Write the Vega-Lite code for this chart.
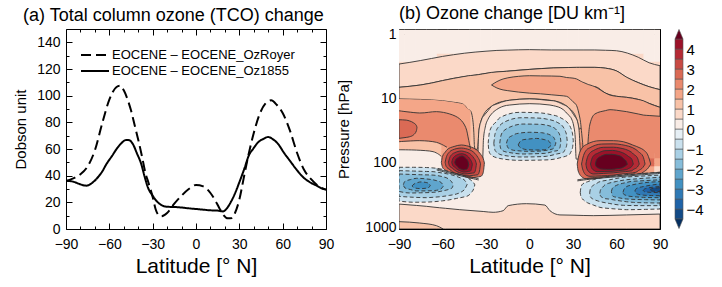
{
"$schema": "https://vega.github.io/schema/vega-lite/v6.json",
"padding": {"left": 13, "top": 4, "right": 5, "bottom": 5},
"background": "white",
"config": {
  "font": "Liberation Sans",
  "view": {"stroke": "#000", "strokeWidth": 1},
  "axis": {"grid": false, "domain": false, "tickColor": "#000", "tickWidth": 1, "labelColor": "#000", "titleColor": "#000", "labelFontSize": 14, "titleFontWeight": "normal", "labelFlush": false, "labelOverlap": false},
  "title": {"fontSize": 18, "fontWeight": "normal", "anchor": "start", "color": "#000", "frame": "group"},
  "legend": {"labelFont": "Liberation Sans"}
},
"datasets": {
"ct": [
{"id":"U2","lat":-90,"p":15.6},{"id":"U2","lat":-75.7,"p":16.9},{"id":"U2","lat":-64.2,"p":16.1},{"id":"U2","lat":-55,"p":17.5},{"id":"U2","lat":-48.1,"p":20.9},{"id":"U2","lat":-44,"p":28.3},{"id":"U2","lat":-42.1,"p":42.9},{"id":"U2","lat":-40.7,"p":61.3},
{"id":"U4","lat":-90,"p":47.2},{"id":"U4","lat":-75.7,"p":45.5},{"id":"U4","lat":-64.2,"p":48.3},{"id":"U4","lat":-56.9,"p":57.7},
{"id":"W1","lat":-90,"p":63},{"id":"W1","lat":-78,"p":63.8},{"id":"W1","lat":-66.5,"p":67.4},{"id":"W1","lat":-60.8,"p":79.6},
{"id":"TL1","lat":-64,"p":125},{"id":"TL1","lat":-55,"p":140},{"id":"TL1","lat":-45,"p":158},{"id":"TL1","lat":-35,"p":178},
{"id":"TL2","lat":-64,"p":130},{"id":"TL2","lat":-55,"p":146},{"id":"TL2","lat":-45,"p":165},{"id":"TL2","lat":-35,"p":186},
{"id":"TR1","lat":33,"p":185},{"id":"TR1","lat":45,"p":170},{"id":"TR1","lat":60,"p":160},{"id":"TR1","lat":75,"p":150},{"id":"TR1","lat":90,"p":141},
{"id":"TR2","lat":33,"p":192},{"id":"TR2","lat":45,"p":177},{"id":"TR2","lat":60,"p":166},{"id":"TR2","lat":75,"p":156},{"id":"TR2","lat":90,"p":147}
],
"bd": [
{"g":"A","id":"A","v":0.75,"lat":-90,"t":2.93,"b":6.74},{"g":"A","id":"A","v":0.75,"lat":-82.5,"t":2.76,"b":6.5},{"g":"A","id":"A","v":0.75,"lat":-75,"t":2.58,"b":6.2},{"g":"A","id":"A","v":0.75,"lat":-67.5,"t":2.4,"b":5.78},{"g":"A","id":"A","v":0.75,"lat":-60,"t":2.23,"b":5.3},{"g":"A","id":"A","v":0.75,"lat":-52.5,"t":2.1,"b":4.9},{"g":"A","id":"A","v":0.75,"lat":-45,"t":1.99,"b":4.6},{"g":"A","id":"A","v":0.75,"lat":-37.5,"t":1.91,"b":4.35},{"g":"A","id":"A","v":0.75,"lat":-30,"t":1.85,"b":4.1},{"g":"A","id":"A","v":0.75,"lat":-22.5,"t":1.8,"b":3.9},{"g":"A","id":"A","v":0.75,"lat":-15,"t":1.78,"b":3.78},{"g":"A","id":"A","v":0.75,"lat":-7.5,"t":1.76,"b":3.65},{"g":"A","id":"A","v":0.75,"lat":0,"t":1.75,"b":3.55},{"g":"A","id":"A","v":0.75,"lat":7.5,"t":1.76,"b":3.45},{"g":"A","id":"A","v":0.75,"lat":15,"t":1.77,"b":3.38},{"g":"A","id":"A","v":0.75,"lat":22.5,"t":1.77,"b":3.33},{"g":"A","id":"A","v":0.75,"lat":30,"t":1.77,"b":3.31},{"g":"A","id":"A","v":0.75,"lat":37.5,"t":1.77,"b":3.3},{"g":"A","id":"A","v":0.75,"lat":45,"t":1.77,"b":3.3},{"g":"A","id":"A","v":0.75,"lat":52.5,"t":1.79,"b":3.4},{"g":"A","id":"A","v":0.75,"lat":60,"t":1.82,"b":3.75},{"g":"A","id":"A","v":0.75,"lat":67.5,"t":1.98,"b":4.8},{"g":"A","id":"A","v":0.75,"lat":75,"t":2.3,"b":5.7},{"g":"A","id":"A","v":0.75,"lat":82.5,"t":2.8,"b":6.6},{"g":"A","id":"A","v":0.75,"lat":90,"t":3.11,"b":7.33},
{"g":"B","id":"B","v":1.25,"lat":-90,"t":6.74,"b":10.2},{"g":"B","id":"B","v":1.25,"lat":-82.5,"t":6.5,"b":10.3},{"g":"B","id":"B","v":1.25,"lat":-75,"t":6.2,"b":10.4},{"g":"B","id":"B","v":1.25,"lat":-67.5,"t":5.78,"b":10.6},{"g":"B","id":"B","v":1.25,"lat":-60,"t":5.3,"b":10.9},{"g":"B","id":"B","v":1.25,"lat":-52.5,"t":4.9,"b":11.5},{"g":"B","id":"B","v":1.25,"lat":-45.8,"t":4.6,"b":12.3},{"g":"B","id":"B","v":1.25,"lat":-42,"t":4.45,"b":15},{"g":"B","id":"B","v":1.25,"lat":-40.7,"t":4.42,"b":15.6},{"g":"B","id":"B","v":1.25,"lat":-38.9,"t":4.38,"b":23.6},{"g":"B","id":"B","v":1.25,"lat":-38.4,"t":4.37,"b":33.7},{"g":"B","id":"B","v":1.25,"lat":-38,"t":4.36,"b":54},{"g":"B","id":"B","v":1.25,"lat":-37.5,"t":4.35,"b":62},{"g":"B","id":"B","v":1.25,"lat":-36,"t":4.3,"b":62},{"g":"B","id":"B","v":1.25,"lat":-35.3,"t":4.28,"b":45},{"g":"B","id":"B","v":1.25,"lat":-35,"t":4.27,"b":33.7},{"g":"B","id":"B","v":1.25,"lat":-34,"t":4.24,"b":25},{"g":"B","id":"B","v":1.25,"lat":-32.5,"t":4.18,"b":19.8},{"g":"B","id":"B","v":1.25,"lat":-26.2,"t":3.95,"b":13.3},{"g":"B","id":"B","v":1.25,"lat":-15.9,"t":3.8,"b":10.9},{"g":"B","id":"B","v":1.25,"lat":0.2,"t":3.55,"b":10.2},{"g":"B","id":"B","v":1.25,"lat":16.4,"t":3.37,"b":10.9},{"g":"B","id":"B","v":1.25,"lat":26.7,"t":3.32,"b":13.8},{"g":"B","id":"B","v":1.25,"lat":32.5,"t":3.3,"b":20.9},{"g":"B","id":"B","v":1.25,"lat":34.5,"t":3.3,"b":30},{"g":"B","id":"B","v":1.25,"lat":45.1,"t":3.3,"b":6.6},{"g":"B","id":"B","v":1.25,"lat":52.5,"t":3.4,"b":8.3},{"g":"B","id":"B","v":1.25,"lat":60,"t":3.75,"b":9.3},{"g":"B","id":"B","v":1.25,"lat":67,"t":4.7,"b":9.65},{"g":"B","id":"B","v":1.25,"lat":75,"t":5.7,"b":10.4},{"g":"B","id":"B","v":1.25,"lat":82.5,"t":6.6,"b":12},{"g":"B","id":"B","v":1.25,"lat":90,"t":7.33,"b":13.8},
{"g":"EF","id":"E","v":1.75,"lat":-90,"t":10.2,"b":15.6},{"g":"EF","id":"E","v":1.75,"lat":-82.5,"t":10.3,"b":16.2},{"g":"EF","id":"E","v":1.75,"lat":-75.7,"t":10.4,"b":16.9},{"g":"EF","id":"E","v":1.75,"lat":-67.5,"t":10.6,"b":16.4},{"g":"EF","id":"E","v":1.75,"lat":-64.2,"t":10.7,"b":16.1},{"g":"EF","id":"E","v":1.75,"lat":-60,"t":10.9,"b":16.6},{"g":"EF","id":"E","v":1.75,"lat":-55,"t":11.3,"b":17.5},{"g":"EF","id":"E","v":1.75,"lat":-48.1,"t":12,"b":20.9},{"g":"EF","id":"E","v":1.75,"lat":-45.8,"t":12.3,"b":24},{"g":"EF","id":"E","v":1.75,"lat":-44,"t":13.5,"b":28.3},{"g":"EF","id":"E","v":1.75,"lat":-42.1,"t":14.8,"b":42.9},{"g":"EF","id":"E","v":1.75,"lat":-40.7,"t":15.6,"b":61.3},
{"g":"EF","id":"F","v":2.25,"lat":-90,"t":15.6,"b":47.2},{"g":"EF","id":"F","v":2.25,"lat":-82.5,"t":16.2,"b":46.3},{"g":"EF","id":"F","v":2.25,"lat":-75.7,"t":16.9,"b":45.5},{"g":"EF","id":"F","v":2.25,"lat":-67.5,"t":16.4,"b":47},{"g":"EF","id":"F","v":2.25,"lat":-64.2,"t":16.1,"b":48.3},{"g":"EF","id":"F","v":2.25,"lat":-60,"t":16.6,"b":52},{"g":"EF","id":"F","v":2.25,"lat":-56.9,"t":17.3,"b":57.7},{"g":"EF","id":"F","v":2.25,"lat":-55,"t":17.5,"b":58},{"g":"EF","id":"F","v":2.25,"lat":-48.1,"t":20.9,"b":53.5},{"g":"EF","id":"F","v":2.25,"lat":-44,"t":28.3,"b":56},{"g":"EF","id":"F","v":2.25,"lat":-42.1,"t":42.9,"b":58},{"g":"EF","id":"F","v":2.25,"lat":-40.7,"t":61.3,"b":61.3},
{"g":"EF","id":"G","v":1.25,"lat":-90,"t":47.2,"b":63},{"g":"EF","id":"G","v":1.25,"lat":-82.5,"t":46.5,"b":63.3},{"g":"EF","id":"G","v":1.25,"lat":-75,"t":45.6,"b":64},{"g":"EF","id":"G","v":1.25,"lat":-67.5,"t":47.5,"b":67},{"g":"EF","id":"G","v":1.25,"lat":-62,"t":52,"b":75},{"g":"EF","id":"G","v":1.25,"lat":-60.8,"t":55,"b":80},
{"g":"EF","id":"H","v":2.25,"lat":40.5,"t":42.9,"b":50},{"g":"EF","id":"H","v":2.25,"lat":41.7,"t":25.1,"b":52},{"g":"EF","id":"H","v":2.25,"lat":45.1,"t":17.5,"b":48},{"g":"EF","id":"H","v":2.25,"lat":55.5,"t":15,"b":45.5},{"g":"EF","id":"H","v":2.25,"lat":67,"t":16.1,"b":48},{"g":"EF","id":"H","v":2.25,"lat":78.5,"t":18.2,"b":63},{"g":"EF","id":"H","v":2.25,"lat":90,"t":19,"b":75},
{"g":"T","id":"U3","v":2.75,"lat":-90,"t":21.5,"b":41.9},{"g":"T","id":"U3","v":2.75,"lat":-85,"t":21.8,"b":40.5},{"g":"T","id":"U3","v":2.75,"lat":-82.6,"t":22.5,"b":39.5},{"g":"T","id":"U3","v":2.75,"lat":-80,"t":24,"b":37},{"g":"T","id":"U3","v":2.75,"lat":-78,"t":26.5,"b":32},{"g":"T","id":"U3","v":2.75,"lat":-77.6,"t":28.3,"b":28.3},
{"g":"T","id":"TG","v":1.75,"lat":-26.2,"t":6.2,"b":6.2},{"g":"T","id":"TG","v":1.75,"lat":-22.5,"t":5.5,"b":6.9},{"g":"T","id":"TG","v":1.75,"lat":-18.2,"t":5,"b":7.4},{"g":"T","id":"TG","v":1.75,"lat":-15,"t":4.8,"b":7.6},{"g":"T","id":"TG","v":1.75,"lat":-7.5,"t":4.55,"b":8},{"g":"T","id":"TG","v":1.75,"lat":0,"t":4.45,"b":8.3},{"g":"T","id":"TG","v":1.75,"lat":7.5,"t":4.48,"b":8.5},{"g":"T","id":"TG","v":1.75,"lat":15,"t":4.5,"b":8.8},{"g":"T","id":"TG","v":1.75,"lat":21,"t":4.54,"b":9.05},{"g":"T","id":"TG","v":1.75,"lat":25.6,"t":4.75,"b":9.31},{"g":"T","id":"TG","v":1.75,"lat":30,"t":4.85,"b":11.3},{"g":"T","id":"TG","v":1.75,"lat":32.5,"t":5,"b":13},{"g":"T","id":"TG","v":1.75,"lat":34,"t":5.2,"b":17},{"g":"T","id":"TG","v":1.75,"lat":35.2,"t":5.4,"b":23.6},{"g":"T","id":"TG","v":1.75,"lat":36,"t":5.5,"b":35},{"g":"T","id":"TG","v":1.75,"lat":36.6,"t":5.6,"b":48.3},{"g":"T","id":"TG","v":1.75,"lat":37.5,"t":5.7,"b":77.9},{"g":"T","id":"TG","v":1.75,"lat":39.8,"t":6,"b":77.9},{"g":"T","id":"TG","v":1.75,"lat":40.5,"t":6.1,"b":42.9},{"g":"T","id":"TG","v":1.75,"lat":41.7,"t":6.2,"b":25.1},{"g":"T","id":"TG","v":1.75,"lat":45.1,"t":6.6,"b":17.5},{"g":"T","id":"TG","v":1.75,"lat":52.5,"t":8.3,"b":15.5},{"g":"T","id":"TG","v":1.75,"lat":55.5,"t":8.9,"b":15},{"g":"T","id":"TG","v":1.75,"lat":60,"t":9.3,"b":15.3},{"g":"T","id":"TG","v":1.75,"lat":67,"t":9.65,"b":16.1},{"g":"T","id":"TG","v":1.75,"lat":75,"t":10.4,"b":17.5},{"g":"T","id":"TG","v":1.75,"lat":78.5,"t":10.9,"b":18.2},{"g":"T","id":"TG","v":1.75,"lat":82.5,"t":12,"b":18.5},{"g":"T","id":"TG","v":1.75,"lat":90,"t":13.8,"b":19},
{"g":"W","id":"WB","v":0.25,"lat":-90,"t":63,"b":440},{"g":"W","id":"WB","v":0.25,"lat":-78,"t":63.8,"b":462},{"g":"W","id":"WB","v":0.25,"lat":-71.1,"t":65.5,"b":477},{"g":"W","id":"WB","v":0.25,"lat":-66.5,"t":67.4,"b":490},{"g":"W","id":"WB","v":0.25,"lat":-62,"t":75,"b":502},{"g":"W","id":"WB","v":0.25,"lat":-60.8,"t":85,"b":505},{"g":"W","id":"WB","v":0.25,"lat":-58,"t":125,"b":512},{"g":"W","id":"WB","v":0.25,"lat":-48.1,"t":125,"b":538},{"g":"W","id":"WB","v":0.25,"lat":-31.5,"t":125,"b":575},{"g":"W","id":"WB","v":0.25,"lat":-30,"t":95,"b":578},{"g":"W","id":"WB","v":0.25,"lat":-25.1,"t":95,"b":591},{"g":"W","id":"WB","v":0.25,"lat":-18.2,"t":95,"b":558},{"g":"W","id":"WB","v":0.25,"lat":-14.7,"t":95,"b":466},{"g":"W","id":"WB","v":0.25,"lat":-2.1,"t":95,"b":434},{"g":"W","id":"WB","v":0.25,"lat":10.6,"t":95,"b":456},{"g":"W","id":"WB","v":0.25,"lat":14.1,"t":95,"b":558},{"g":"W","id":"WB","v":0.25,"lat":21,"t":95,"b":649},{"g":"W","id":"WB","v":0.25,"lat":30,"t":95,"b":655},{"g":"W","id":"WB","v":0.25,"lat":33,"t":120,"b":658},{"g":"W","id":"WB","v":0.25,"lat":36,"t":150,"b":660},{"g":"W","id":"WB","v":0.25,"lat":44,"t":150,"b":666},{"g":"W","id":"WB","v":0.25,"lat":67,"t":150,"b":649},{"g":"W","id":"WB","v":0.25,"lat":90,"t":150,"b":629},
{"g":"W","id":"AW","v":0.25,"lat":-32.2,"t":85,"b":95},{"g":"W","id":"AW","v":0.25,"lat":-31.8,"t":45,"b":95},{"g":"W","id":"AW","v":0.25,"lat":-31.5,"t":33.7,"b":95},{"g":"W","id":"AW","v":0.25,"lat":-28.5,"t":20.9,"b":95},{"g":"W","id":"AW","v":0.25,"lat":-22.8,"t":15,"b":95},{"g":"W","id":"AW","v":0.25,"lat":-13.6,"t":12.7,"b":95},{"g":"W","id":"AW","v":0.25,"lat":0.2,"t":12.1,"b":95},{"g":"W","id":"AW","v":0.25,"lat":14.1,"t":12.7,"b":95},{"g":"W","id":"AW","v":0.25,"lat":23.3,"t":15,"b":95},{"g":"W","id":"AW","v":0.25,"lat":29,"t":20.9,"b":95},{"g":"W","id":"AW","v":0.25,"lat":31.3,"t":33.7,"b":95},{"g":"W","id":"AW","v":0.25,"lat":32,"t":54.4,"b":95},{"g":"W","id":"AW","v":0.25,"lat":32.4,"t":85,"b":95},
{"g":"S","id":"AR","v":0.75,"lat":-35.5,"t":75,"b":88},{"g":"S","id":"AR","v":0.75,"lat":-35.2,"t":40,"b":88},{"g":"S","id":"AR","v":0.75,"lat":-34.5,"t":28,"b":88},{"g":"S","id":"AR","v":0.75,"lat":-33.5,"t":23,"b":88},{"g":"S","id":"AR","v":0.75,"lat":-32.3,"t":19.5,"b":88},{"g":"S","id":"AR","v":0.75,"lat":-31.8,"t":19,"b":45},{"g":"S","id":"AR","v":0.75,"lat":-30.5,"t":17.5,"b":28},{"g":"S","id":"AR","v":0.75,"lat":-28.5,"t":15.5,"b":20.9},{"g":"S","id":"AR","v":0.75,"lat":-26.2,"t":13.3,"b":17.5},{"g":"S","id":"AR","v":0.75,"lat":-22.8,"t":12.3,"b":15},{"g":"S","id":"AR","v":0.75,"lat":-15.9,"t":10.9,"b":12.9},{"g":"S","id":"AR","v":0.75,"lat":-13.6,"t":10.7,"b":12.7},{"g":"S","id":"AR","v":0.75,"lat":0.2,"t":10.2,"b":12.1},{"g":"S","id":"AR","v":0.75,"lat":14.1,"t":10.8,"b":12.7},{"g":"S","id":"AR","v":0.75,"lat":16.4,"t":10.9,"b":13},{"g":"S","id":"AR","v":0.75,"lat":23.3,"t":12.5,"b":15},{"g":"S","id":"AR","v":0.75,"lat":26.7,"t":13.8,"b":18},{"g":"S","id":"AR","v":0.75,"lat":29,"t":16,"b":20.9},{"g":"S","id":"AR","v":0.75,"lat":30.5,"t":18,"b":27},{"g":"S","id":"AR","v":0.75,"lat":31.5,"t":19.5,"b":40},{"g":"S","id":"AR","v":0.75,"lat":32.2,"t":20.5,"b":88},{"g":"S","id":"AR","v":0.75,"lat":33.5,"t":25,"b":88},{"g":"S","id":"AR","v":0.75,"lat":34.3,"t":33.7,"b":88},{"g":"S","id":"AR","v":0.75,"lat":34.8,"t":54.4,"b":88},{"g":"S","id":"AR","v":0.75,"lat":35.2,"t":88,"b":88},
{"g":"S","id":"BT","v":0.75,"lat":-90,"t":440,"b":1074},{"g":"S","id":"BT","v":0.75,"lat":-78,"t":462,"b":1074},{"g":"S","id":"BT","v":0.75,"lat":-71.1,"t":477,"b":1074},{"g":"S","id":"BT","v":0.75,"lat":-66.5,"t":490,"b":1074},{"g":"S","id":"BT","v":0.75,"lat":-62,"t":502,"b":1074},{"g":"S","id":"BT","v":0.75,"lat":-58,"t":512,"b":1074},{"g":"S","id":"BT","v":0.75,"lat":-48.1,"t":538,"b":1074},{"g":"S","id":"BT","v":0.75,"lat":-31.5,"t":575,"b":1074},{"g":"S","id":"BT","v":0.75,"lat":-25.1,"t":591,"b":1074},{"g":"S","id":"BT","v":0.75,"lat":-18.2,"t":558,"b":1074},{"g":"S","id":"BT","v":0.75,"lat":-14.7,"t":466,"b":1074},{"g":"S","id":"BT","v":0.75,"lat":-2.1,"t":434,"b":1074},{"g":"S","id":"BT","v":0.75,"lat":10.6,"t":456,"b":1074},{"g":"S","id":"BT","v":0.75,"lat":14.1,"t":558,"b":1074},{"g":"S","id":"BT","v":0.75,"lat":21,"t":649,"b":1074},{"g":"S","id":"BT","v":0.75,"lat":30,"t":655,"b":1074},{"g":"S","id":"BT","v":0.75,"lat":44,"t":666,"b":1074},{"g":"S","id":"BT","v":0.75,"lat":67,"t":649,"b":1074},{"g":"S","id":"BT","v":0.75,"lat":90,"t":629,"b":1074},
{"g":"S","id":"BT2","v":1.25,"lat":-90,"t":826,"b":1074},{"g":"S","id":"BT2","v":1.25,"lat":-75.7,"t":867,"b":1074},{"g":"S","id":"BT2","v":1.25,"lat":-64.2,"t":953,"b":1074},{"g":"S","id":"BT2","v":1.25,"lat":-59.6,"t":1074,"b":1074},
{"g":"P1","id":"R1","v":2.75,"lat":-60.8,"t":98.8,"b":98.8},{"g":"P1","id":"R1","v":2.75,"lat":-60,"t":80,"b":118},{"g":"P1","id":"R1","v":2.75,"lat":-58,"t":68,"b":132},{"g":"P1","id":"R1","v":2.75,"lat":-56.9,"t":63,"b":138},{"g":"P1","id":"R1","v":2.75,"lat":-52,"t":56,"b":155},{"g":"P1","id":"R1","v":2.75,"lat":-47,"t":53.1,"b":166},{"g":"P1","id":"R1","v":2.75,"lat":-43.5,"t":54.5,"b":175},{"g":"P1","id":"R1","v":2.75,"lat":-40,"t":57.5,"b":172},{"g":"P1","id":"R1","v":2.75,"lat":-36.6,"t":63,"b":168},{"g":"P1","id":"R1","v":2.75,"lat":-33.5,"t":75,"b":163},{"g":"P1","id":"R1","v":2.75,"lat":-32,"t":85,"b":145},{"g":"P1","id":"R1","v":2.75,"lat":-31.1,"t":101,"b":101},
{"g":"P1","id":"Q1","v":2.75,"lat":32.9,"t":105,"b":105},{"g":"P1","id":"Q1","v":2.75,"lat":33.6,"t":85,"b":135},{"g":"P1","id":"Q1","v":2.75,"lat":36.6,"t":57.7,"b":170},{"g":"P1","id":"Q1","v":2.75,"lat":39.4,"t":52,"b":179},{"g":"P1","id":"Q1","v":2.75,"lat":48.6,"t":45.5,"b":175},{"g":"P1","id":"Q1","v":2.75,"lat":57.8,"t":45.5,"b":169},{"g":"P1","id":"Q1","v":2.75,"lat":64.7,"t":47.2,"b":160},{"g":"P1","id":"Q1","v":2.75,"lat":71,"t":53,"b":155},{"g":"P1","id":"Q1","v":2.75,"lat":76.2,"t":59,"b":150},{"g":"P1","id":"Q1","v":2.75,"lat":78.5,"t":63,"b":140},{"g":"P1","id":"Q1","v":2.75,"lat":82,"t":80,"b":120},{"g":"P1","id":"Q1","v":2.75,"lat":83.6,"t":105,"b":105},
{"g":"P2","id":"R2","v":3.25,"lat":-58.2,"t":98.8,"b":98.8},{"g":"P2","id":"R2","v":3.25,"lat":-57.5,"t":84,"b":114},{"g":"P2","id":"R2","v":3.25,"lat":-55,"t":67.4,"b":128},{"g":"P2","id":"R2","v":3.25,"lat":-53.2,"t":63.5,"b":138},{"g":"P2","id":"R2","v":3.25,"lat":-47,"t":59.2,"b":155},{"g":"P2","id":"R2","v":3.25,"lat":-44,"t":60.5,"b":161},{"g":"P2","id":"R2","v":3.25,"lat":-38.4,"t":69.1,"b":157},{"g":"P2","id":"R2","v":3.25,"lat":-35.7,"t":82,"b":154},{"g":"P2","id":"R2","v":3.25,"lat":-34.5,"t":92,"b":135},{"g":"P2","id":"R2","v":3.25,"lat":-33.8,"t":104,"b":104},
{"g":"P2","id":"Q2","v":3.25,"lat":35.9,"t":105,"b":105},{"g":"P2","id":"Q2","v":3.25,"lat":36.6,"t":88,"b":125},{"g":"P2","id":"Q2","v":3.25,"lat":39.4,"t":63,"b":158},{"g":"P2","id":"Q2","v":3.25,"lat":41.7,"t":58.5,"b":163},{"g":"P2","id":"Q2","v":3.25,"lat":49.7,"t":51.3,"b":160},{"g":"P2","id":"Q2","v":3.25,"lat":57.8,"t":51,"b":156},{"g":"P2","id":"Q2","v":3.25,"lat":63.5,"t":52.5,"b":150},{"g":"P2","id":"Q2","v":3.25,"lat":73.4,"t":62.5,"b":141},{"g":"P2","id":"Q2","v":3.25,"lat":75.1,"t":67.4,"b":133},{"g":"P2","id":"Q2","v":3.25,"lat":78.3,"t":80,"b":118},{"g":"P2","id":"Q2","v":3.25,"lat":79.7,"t":105,"b":105},
{"g":"P3","id":"R3","v":3.75,"lat":-55.9,"t":98.8,"b":98.8},{"g":"P3","id":"R3","v":3.75,"lat":-55.2,"t":86,"b":112},{"g":"P3","id":"R3","v":3.75,"lat":-53.2,"t":73.3,"b":122},{"g":"P3","id":"R3","v":3.75,"lat":-51.6,"t":70,"b":131},{"g":"P3","id":"R3","v":3.75,"lat":-47,"t":65.9,"b":146},{"g":"P3","id":"R3","v":3.75,"lat":-44.6,"t":67.5,"b":150},{"g":"P3","id":"R3","v":3.75,"lat":-40.3,"t":75.1,"b":146},{"g":"P3","id":"R3","v":3.75,"lat":-38.2,"t":86,"b":144},{"g":"P3","id":"R3","v":3.75,"lat":-37.2,"t":94,"b":128},{"g":"P3","id":"R3","v":3.75,"lat":-36.6,"t":105,"b":105},
{"g":"P3","id":"Q3","v":3.75,"lat":38.9,"t":105,"b":105},{"g":"P3","id":"Q3","v":3.75,"lat":39.6,"t":88,"b":125},{"g":"P3","id":"Q3","v":3.75,"lat":42.1,"t":69.1,"b":145},{"g":"P3","id":"Q3","v":3.75,"lat":44,"t":65,"b":150},{"g":"P3","id":"Q3","v":3.75,"lat":50.9,"t":57.7,"b":147},{"g":"P3","id":"Q3","v":3.75,"lat":57.8,"t":57.5,"b":144},{"g":"P3","id":"Q3","v":3.75,"lat":62.4,"t":59.2,"b":140},{"g":"P3","id":"Q3","v":3.75,"lat":70.4,"t":69,"b":134},{"g":"P3","id":"Q3","v":3.75,"lat":71.6,"t":73.3,"b":128},{"g":"P3","id":"Q3","v":3.75,"lat":74.4,"t":84,"b":117},{"g":"P3","id":"Q3","v":3.75,"lat":75.7,"t":105,"b":105},
{"g":"P4","id":"R4","v":4.25,"lat":-53.6,"t":98.8,"b":98.8},{"g":"P4","id":"R4","v":4.25,"lat":-53,"t":88,"b":110},{"g":"P4","id":"R4","v":4.25,"lat":-51.3,"t":78.8,"b":119},{"g":"P4","id":"R4","v":4.25,"lat":-50.4,"t":76.5,"b":124},{"g":"P4","id":"R4","v":4.25,"lat":-46.7,"t":72.5,"b":137},{"g":"P4","id":"R4","v":4.25,"lat":-45.3,"t":73.5,"b":140},{"g":"P4","id":"R4","v":4.25,"lat":-42.1,"t":81.6,"b":137},{"g":"P4","id":"R4","v":4.25,"lat":-40.7,"t":90,"b":135},{"g":"P4","id":"R4","v":4.25,"lat":-40,"t":96,"b":124},{"g":"P4","id":"R4","v":4.25,"lat":-39.4,"t":106,"b":106},
{"g":"P4","id":"Q4","v":4.25,"lat":42.1,"t":105,"b":105},{"g":"P4","id":"Q4","v":4.25,"lat":42.8,"t":90,"b":120},{"g":"P4","id":"Q4","v":4.25,"lat":44.7,"t":76,"b":133},{"g":"P4","id":"Q4","v":4.25,"lat":46.7,"t":72,"b":138},{"g":"P4","id":"Q4","v":4.25,"lat":52,"t":65.1,"b":137},{"g":"P4","id":"Q4","v":4.25,"lat":57.3,"t":64.5,"b":136},{"g":"P4","id":"Q4","v":4.25,"lat":61.2,"t":66.6,"b":133},{"g":"P4","id":"Q4","v":4.25,"lat":67,"t":76,"b":128},{"g":"P4","id":"Q4","v":4.25,"lat":68.1,"t":79.6,"b":124},{"g":"P4","id":"Q4","v":4.25,"lat":70.5,"t":88,"b":115},{"g":"P4","id":"Q4","v":4.25,"lat":71.6,"t":105,"b":105},
{"g":"P5","id":"R5","v":4.75,"lat":-51.6,"t":98.8,"b":98.8},{"g":"P5","id":"R5","v":4.75,"lat":-51,"t":91,"b":107},{"g":"P5","id":"R5","v":4.75,"lat":-49.7,"t":84.6,"b":114},{"g":"P5","id":"R5","v":4.75,"lat":-49.3,"t":83.5,"b":118},{"g":"P5","id":"R5","v":4.75,"lat":-46.5,"t":78.8,"b":128},{"g":"P5","id":"R5","v":4.75,"lat":-45.8,"t":79.5,"b":130},{"g":"P5","id":"R5","v":4.75,"lat":-43.5,"t":87.7,"b":127},{"g":"P5","id":"R5","v":4.75,"lat":-43,"t":90,"b":125},{"g":"P5","id":"R5","v":4.75,"lat":-42.4,"t":96,"b":118},{"g":"P5","id":"R5","v":4.75,"lat":-41.9,"t":107,"b":107},
{"g":"P5","id":"Q5","v":4.75,"lat":45.4,"t":105,"b":105},{"g":"P5","id":"Q5","v":4.75,"lat":46,"t":93,"b":115},{"g":"P5","id":"Q5","v":4.75,"lat":47.5,"t":83.6,"b":121},{"g":"P5","id":"Q5","v":4.75,"lat":49,"t":80,"b":125},{"g":"P5","id":"Q5","v":4.75,"lat":53.2,"t":74.2,"b":127},{"g":"P5","id":"Q5","v":4.75,"lat":56.6,"t":74,"b":127},{"g":"P5","id":"Q5","v":4.75,"lat":60.1,"t":76,"b":124},{"g":"P5","id":"Q5","v":4.75,"lat":63.5,"t":81,"b":121},{"g":"P5","id":"Q5","v":4.75,"lat":65.2,"t":87.7,"b":116},{"g":"P5","id":"Q5","v":4.75,"lat":66.8,"t":96,"b":110},{"g":"P5","id":"Q5","v":4.75,"lat":67.5,"t":106,"b":106},
{"g":"M1","id":"N1","v":-0.75,"lat":-28.5,"t":50,"b":50},{"g":"M1","id":"N1","v":-0.75,"lat":-28,"t":38,"b":65},{"g":"M1","id":"N1","v":-0.75,"lat":-26.9,"t":30,"b":74},{"g":"M1","id":"N1","v":-0.75,"lat":-22.8,"t":23,"b":83.6},{"g":"M1","id":"N1","v":-0.75,"lat":-20.5,"t":20,"b":86},{"g":"M1","id":"N1","v":-0.75,"lat":-6.7,"t":16.5,"b":92},{"g":"M1","id":"N1","v":-0.75,"lat":8.3,"t":16.9,"b":91},{"g":"M1","id":"N1","v":-0.75,"lat":14.1,"t":17.8,"b":90},{"g":"M1","id":"N1","v":-0.75,"lat":21,"t":19.8,"b":84},{"g":"M1","id":"N1","v":-0.75,"lat":27.9,"t":27,"b":73.3},{"g":"M1","id":"N1","v":-0.75,"lat":28.3,"t":28.3,"b":70},{"g":"M1","id":"N1","v":-0.75,"lat":29.7,"t":36,"b":58},{"g":"M1","id":"N1","v":-0.75,"lat":30.2,"t":45.5,"b":45.5},
{"g":"M1","id":"LB1","v":-0.75,"lat":-90,"t":118,"b":395},{"g":"M1","id":"LB1","v":-0.75,"lat":-80,"t":118,"b":412},{"g":"M1","id":"LB1","v":-0.75,"lat":-71.1,"t":119,"b":410},{"g":"M1","id":"LB1","v":-0.75,"lat":-60,"t":127,"b":392},{"g":"M1","id":"LB1","v":-0.75,"lat":-57.3,"t":133,"b":385},{"g":"M1","id":"LB1","v":-0.75,"lat":-50.4,"t":150,"b":360},{"g":"M1","id":"LB1","v":-0.75,"lat":-45,"t":162,"b":340},{"g":"M1","id":"LB1","v":-0.75,"lat":-42.3,"t":175,"b":326},{"g":"M1","id":"LB1","v":-0.75,"lat":-40,"t":190,"b":290},{"g":"M1","id":"LB1","v":-0.75,"lat":-38.5,"t":205,"b":255},{"g":"M1","id":"LB1","v":-0.75,"lat":-37.7,"t":221,"b":221},
{"g":"M1","id":"RB1","v":-0.75,"lat":35,"t":290,"b":290},{"g":"M1","id":"RB1","v":-0.75,"lat":35.5,"t":240,"b":340},{"g":"M1","id":"RB1","v":-0.75,"lat":36.6,"t":215,"b":367},{"g":"M1","id":"RB1","v":-0.75,"lat":40,"t":198,"b":420},{"g":"M1","id":"RB1","v":-0.75,"lat":44,"t":184,"b":455},{"g":"M1","id":"RB1","v":-0.75,"lat":48.6,"t":174,"b":495},{"g":"M1","id":"RB1","v":-0.75,"lat":55,"t":165,"b":515},{"g":"M1","id":"RB1","v":-0.75,"lat":62.4,"t":156,"b":530},{"g":"M1","id":"RB1","v":-0.75,"lat":67,"t":153,"b":538},{"g":"M1","id":"RB1","v":-0.75,"lat":80,"t":146,"b":532},{"g":"M1","id":"RB1","v":-0.75,"lat":90,"t":141,"b":525},
{"g":"M2","id":"N2","v":-1.25,"lat":-24.6,"t":50,"b":50},{"g":"M2","id":"N2","v":-1.25,"lat":-24,"t":38,"b":62},{"g":"M2","id":"N2","v":-1.25,"lat":-23.2,"t":33,"b":67},{"g":"M2","id":"N2","v":-1.25,"lat":-20.5,"t":26.5,"b":74.2},{"g":"M2","id":"N2","v":-1.25,"lat":-17.7,"t":23.6,"b":77},{"g":"M2","id":"N2","v":-1.25,"lat":-5.5,"t":20,"b":81.6},{"g":"M2","id":"N2","v":-1.25,"lat":8.3,"t":20.4,"b":80.5},{"g":"M2","id":"N2","v":-1.25,"lat":11.7,"t":21,"b":79.6},{"g":"M2","id":"N2","v":-1.25,"lat":19.1,"t":23.6,"b":73},{"g":"M2","id":"N2","v":-1.25,"lat":23.3,"t":28,"b":69.1},{"g":"M2","id":"N2","v":-1.25,"lat":24.6,"t":31.8,"b":62},{"g":"M2","id":"N2","v":-1.25,"lat":25.6,"t":38,"b":54},{"g":"M2","id":"N2","v":-1.25,"lat":26,"t":46,"b":46},
{"g":"M2","id":"LB2","v":-1.25,"lat":-90,"t":133,"b":334},{"g":"M2","id":"LB2","v":-1.25,"lat":-80,"t":135,"b":345},{"g":"M2","id":"LB2","v":-1.25,"lat":-71.1,"t":137,"b":350},{"g":"M2","id":"LB2","v":-1.25,"lat":-66.5,"t":138,"b":345},{"g":"M2","id":"LB2","v":-1.25,"lat":-60,"t":145,"b":335},{"g":"M2","id":"LB2","v":-1.25,"lat":-55,"t":152,"b":322},{"g":"M2","id":"LB2","v":-1.25,"lat":-50.4,"t":163,"b":307},{"g":"M2","id":"LB2","v":-1.25,"lat":-47,"t":175,"b":285},{"g":"M2","id":"LB2","v":-1.25,"lat":-44.5,"t":190,"b":255},{"g":"M2","id":"LB2","v":-1.25,"lat":-43,"t":217,"b":217},
{"g":"M2","id":"RB2","v":-1.25,"lat":41.5,"t":300,"b":300},{"g":"M2","id":"RB2","v":-1.25,"lat":42,"t":255,"b":340},{"g":"M2","id":"RB2","v":-1.25,"lat":44,"t":225,"b":370},{"g":"M2","id":"RB2","v":-1.25,"lat":46.7,"t":208,"b":390},{"g":"M2","id":"RB2","v":-1.25,"lat":47.4,"t":202,"b":395},{"g":"M2","id":"RB2","v":-1.25,"lat":55,"t":185,"b":430},{"g":"M2","id":"RB2","v":-1.25,"lat":62.4,"t":172,"b":456},{"g":"M2","id":"RB2","v":-1.25,"lat":64.7,"t":169,"b":460},{"g":"M2","id":"RB2","v":-1.25,"lat":75,"t":163,"b":465},{"g":"M2","id":"RB2","v":-1.25,"lat":90,"t":156,"b":466},
{"g":"M3","id":"N3","v":-1.75,"lat":-20.5,"t":50,"b":50},{"g":"M3","id":"N3","v":-1.75,"lat":-20,"t":41,"b":59},{"g":"M3","id":"N3","v":-1.75,"lat":-19.3,"t":35.8,"b":63},{"g":"M3","id":"N3","v":-1.75,"lat":-17,"t":31,"b":67.4},{"g":"M3","id":"N3","v":-1.75,"lat":-14,"t":28.3,"b":69.5},{"g":"M3","id":"N3","v":-1.75,"lat":-4.4,"t":25.1,"b":73.3},{"g":"M3","id":"N3","v":-1.75,"lat":8.3,"t":25.4,"b":72},{"g":"M3","id":"N3","v":-1.75,"lat":10.6,"t":25.8,"b":71.7},{"g":"M3","id":"N3","v":-1.75,"lat":17.5,"t":29.3,"b":66},{"g":"M3","id":"N3","v":-1.75,"lat":19.1,"t":32,"b":65.1},{"g":"M3","id":"N3","v":-1.75,"lat":21,"t":38,"b":58},{"g":"M3","id":"N3","v":-1.75,"lat":21.6,"t":46,"b":46},
{"g":"M3","id":"LB3","v":-1.75,"lat":-90,"t":150,"b":280},{"g":"M3","id":"LB3","v":-1.75,"lat":-82.6,"t":152,"b":296},{"g":"M3","id":"LB3","v":-1.75,"lat":-75,"t":154,"b":294},{"g":"M3","id":"LB3","v":-1.75,"lat":-66.5,"t":156,"b":289},{"g":"M3","id":"LB3","v":-1.75,"lat":-64.2,"t":158,"b":286},{"g":"M3","id":"LB3","v":-1.75,"lat":-60,"t":165,"b":275},{"g":"M3","id":"LB3","v":-1.75,"lat":-56,"t":178,"b":262},{"g":"M3","id":"LB3","v":-1.75,"lat":-54.5,"t":190,"b":255},{"g":"M3","id":"LB3","v":-1.75,"lat":-53.3,"t":205,"b":245},{"g":"M3","id":"LB3","v":-1.75,"lat":-52.7,"t":225,"b":225},
{"g":"M3","id":"RB3","v":-1.75,"lat":48.5,"t":300,"b":300},{"g":"M3","id":"RB3","v":-1.75,"lat":49,"t":265,"b":330},{"g":"M3","id":"RB3","v":-1.75,"lat":50.5,"t":240,"b":350},{"g":"M3","id":"RB3","v":-1.75,"lat":52,"t":221,"b":362},{"g":"M3","id":"RB3","v":-1.75,"lat":54.3,"t":210,"b":367},{"g":"M3","id":"RB3","v":-1.75,"lat":60,"t":196,"b":385},{"g":"M3","id":"RB3","v":-1.75,"lat":67,"t":184,"b":405},{"g":"M3","id":"RB3","v":-1.75,"lat":71.6,"t":180,"b":414},{"g":"M3","id":"RB3","v":-1.75,"lat":80,"t":174,"b":420},{"g":"M3","id":"RB3","v":-1.75,"lat":90,"t":169,"b":424},
{"g":"M4","id":"N4","v":-2.25,"lat":-15.9,"t":50,"b":50},{"g":"M4","id":"N4","v":-2.25,"lat":-15,"t":43,"b":58},{"g":"M4","id":"N4","v":-2.25,"lat":-14,"t":40.4,"b":60.5},{"g":"M4","id":"N4","v":-2.25,"lat":-12.4,"t":38.5,"b":63},{"g":"M4","id":"N4","v":-2.25,"lat":-9,"t":35.4,"b":65},{"g":"M4","id":"N4","v":-2.25,"lat":0.2,"t":33.7,"b":66.6},{"g":"M4","id":"N4","v":-2.25,"lat":8.3,"t":34.2,"b":65.9},{"g":"M4","id":"N4","v":-2.25,"lat":9.4,"t":34.5,"b":65.3},{"g":"M4","id":"N4","v":-2.25,"lat":15.9,"t":39,"b":61.3},{"g":"M4","id":"N4","v":-2.25,"lat":17.5,"t":44,"b":55},{"g":"M4","id":"N4","v":-2.25,"lat":18.2,"t":49.4,"b":49.4},
{"g":"M4","id":"LB4","v":-2.25,"lat":-87,"t":220,"b":220},{"g":"M4","id":"LB4","v":-2.25,"lat":-86.1,"t":197,"b":245},{"g":"M4","id":"LB4","v":-2.25,"lat":-82,"t":183,"b":262},{"g":"M4","id":"LB4","v":-2.25,"lat":-78,"t":175,"b":275},{"g":"M4","id":"LB4","v":-2.25,"lat":-70,"t":180,"b":274},{"g":"M4","id":"LB4","v":-2.25,"lat":-64.2,"t":190,"b":269},{"g":"M4","id":"LB4","v":-2.25,"lat":-61,"t":203,"b":255},{"g":"M4","id":"LB4","v":-2.25,"lat":-59.2,"t":228,"b":228},
{"g":"M4","id":"RB4","v":-2.25,"lat":56.5,"t":280,"b":280},{"g":"M4","id":"RB4","v":-2.25,"lat":57,"t":255,"b":320},{"g":"M4","id":"RB4","v":-2.25,"lat":57.8,"t":242,"b":335},{"g":"M4","id":"RB4","v":-2.25,"lat":60,"t":225,"b":345},{"g":"M4","id":"RB4","v":-2.25,"lat":64,"t":210,"b":360},{"g":"M4","id":"RB4","v":-2.25,"lat":67,"t":203,"b":367},{"g":"M4","id":"RB4","v":-2.25,"lat":69.3,"t":197,"b":370},{"g":"M4","id":"RB4","v":-2.25,"lat":80,"t":190,"b":376},{"g":"M4","id":"RB4","v":-2.25,"lat":90,"t":184,"b":380},
{"g":"M5","id":"N5","v":-2.75,"lat":-7.8,"t":53,"b":53},{"g":"M5","id":"N5","v":-2.75,"lat":-6.5,"t":47,"b":58},{"g":"M5","id":"N5","v":-2.75,"lat":-4.4,"t":44,"b":61},{"g":"M5","id":"N5","v":-2.75,"lat":-0.9,"t":43,"b":63},{"g":"M5","id":"N5","v":-2.75,"lat":4.8,"t":42,"b":63.5},{"g":"M5","id":"N5","v":-2.75,"lat":10.6,"t":44,"b":63},{"g":"M5","id":"N5","v":-2.75,"lat":12.9,"t":45.5,"b":59},{"g":"M5","id":"N5","v":-2.75,"lat":15.2,"t":53,"b":53},
{"g":"M5","id":"LB5","v":-2.75,"lat":-81,"t":230,"b":230},{"g":"M5","id":"LB5","v":-2.75,"lat":-80.3,"t":221,"b":240},{"g":"M5","id":"LB5","v":-2.75,"lat":-77.5,"t":205,"b":251},{"g":"M5","id":"LB5","v":-2.75,"lat":-74.6,"t":199,"b":253},{"g":"M5","id":"LB5","v":-2.75,"lat":-71.5,"t":203,"b":250},{"g":"M5","id":"LB5","v":-2.75,"lat":-70,"t":207,"b":248},{"g":"M5","id":"LB5","v":-2.75,"lat":-68.4,"t":225,"b":225},
{"g":"M5","id":"RB5","v":-2.75,"lat":64.5,"t":290,"b":290},{"g":"M5","id":"RB5","v":-2.75,"lat":65,"t":265,"b":310},{"g":"M5","id":"RB5","v":-2.75,"lat":66.5,"t":240,"b":322},{"g":"M5","id":"RB5","v":-2.75,"lat":67,"t":235,"b":326},{"g":"M5","id":"RB5","v":-2.75,"lat":70,"t":224,"b":335},{"g":"M5","id":"RB5","v":-2.75,"lat":73.9,"t":214,"b":341},{"g":"M5","id":"RB5","v":-2.75,"lat":78.5,"t":206,"b":346},{"g":"M5","id":"RB5","v":-2.75,"lat":90,"t":197,"b":350},
{"g":"M6","id":"RB6","v":-3.25,"lat":72.7,"t":275,"b":275},{"g":"M6","id":"RB6","v":-3.25,"lat":73.5,"t":255,"b":300},{"g":"M6","id":"RB6","v":-3.25,"lat":75,"t":245,"b":310},{"g":"M6","id":"RB6","v":-3.25,"lat":77.4,"t":238,"b":318},{"g":"M6","id":"RB6","v":-3.25,"lat":78.5,"t":235,"b":320},{"g":"M6","id":"RB6","v":-3.25,"lat":84,"t":223,"b":324},{"g":"M6","id":"RB6","v":-3.25,"lat":90,"t":214,"b":326},
{"g":"M7","id":"RB7","v":-3.75,"lat":78.4,"t":270,"b":270},{"g":"M7","id":"RB7","v":-3.75,"lat":79.2,"t":258,"b":282},{"g":"M7","id":"RB7","v":-3.75,"lat":80.8,"t":250,"b":286},{"g":"M7","id":"RB7","v":-3.75,"lat":83.1,"t":244,"b":289},{"g":"M7","id":"RB7","v":-3.75,"lat":90,"t":235,"b":292},
{"g":"M8","id":"RB8","v":-4.25,"lat":83,"t":265,"b":265},{"g":"M8","id":"RB8","v":-4.25,"lat":84,"t":255,"b":275},{"g":"M8","id":"RB8","v":-4.25,"lat":87,"t":248,"b":280},{"g":"M8","id":"RB8","v":-4.25,"lat":90,"t":245,"b":282}
]
},
"bounds": "flush",
"spacing": 73,
"hconcat": [
{
  "width": 260, "height": 200,
  "title": {"text": "(a) Total column ozone (TCO) change", "dx": -43, "offset": 4},
  "data": {"values": [
    {"lat":-90,"du":36,"s":"EOCENE – EOCENE_OzRoyer"},{"lat":-85,"du":38,"s":"EOCENE – EOCENE_OzRoyer"},{"lat":-80,"du":41,"s":"EOCENE – EOCENE_OzRoyer"},{"lat":-75,"du":47,"s":"EOCENE – EOCENE_OzRoyer"},{"lat":-70,"du":59,"s":"EOCENE – EOCENE_OzRoyer"},{"lat":-65,"du":79,"s":"EOCENE – EOCENE_OzRoyer"},{"lat":-60,"du":97,"s":"EOCENE – EOCENE_OzRoyer"},{"lat":-55,"du":106.5,"s":"EOCENE – EOCENE_OzRoyer"},{"lat":-52.5,"du":107.5,"s":"EOCENE – EOCENE_OzRoyer"},{"lat":-50,"du":104,"s":"EOCENE – EOCENE_OzRoyer"},{"lat":-47,"du":96,"s":"EOCENE – EOCENE_OzRoyer"},{"lat":-45,"du":89,"s":"EOCENE – EOCENE_OzRoyer"},{"lat":-42.5,"du":78,"s":"EOCENE – EOCENE_OzRoyer"},{"lat":-40,"du":67,"s":"EOCENE – EOCENE_OzRoyer"},{"lat":-37.5,"du":55,"s":"EOCENE – EOCENE_OzRoyer"},{"lat":-35,"du":42,"s":"EOCENE – EOCENE_OzRoyer"},{"lat":-33,"du":35,"s":"EOCENE – EOCENE_OzRoyer"},{"lat":-30,"du":24,"s":"EOCENE – EOCENE_OzRoyer"},{"lat":-28,"du":15,"s":"EOCENE – EOCENE_OzRoyer"},{"lat":-26,"du":10.5,"s":"EOCENE – EOCENE_OzRoyer"},{"lat":-24,"du":9.5,"s":"EOCENE – EOCENE_OzRoyer"},{"lat":-20,"du":12,"s":"EOCENE – EOCENE_OzRoyer"},{"lat":-15,"du":19,"s":"EOCENE – EOCENE_OzRoyer"},{"lat":-10,"du":25,"s":"EOCENE – EOCENE_OzRoyer"},{"lat":-5,"du":30,"s":"EOCENE – EOCENE_OzRoyer"},{"lat":0,"du":33,"s":"EOCENE – EOCENE_OzRoyer"},{"lat":5,"du":32,"s":"EOCENE – EOCENE_OzRoyer"},{"lat":10,"du":27,"s":"EOCENE – EOCENE_OzRoyer"},{"lat":13,"du":22,"s":"EOCENE – EOCENE_OzRoyer"},{"lat":16,"du":16,"s":"EOCENE – EOCENE_OzRoyer"},{"lat":19,"du":10.5,"s":"EOCENE – EOCENE_OzRoyer"},{"lat":22,"du":8,"s":"EOCENE – EOCENE_OzRoyer"},{"lat":25,"du":8.3,"s":"EOCENE – EOCENE_OzRoyer"},{"lat":27,"du":12,"s":"EOCENE – EOCENE_OzRoyer"},{"lat":30,"du":22,"s":"EOCENE – EOCENE_OzRoyer"},{"lat":33,"du":38,"s":"EOCENE – EOCENE_OzRoyer"},{"lat":36,"du":54,"s":"EOCENE – EOCENE_OzRoyer"},{"lat":40,"du":72,"s":"EOCENE – EOCENE_OzRoyer"},{"lat":44,"du":86,"s":"EOCENE – EOCENE_OzRoyer"},{"lat":48,"du":94,"s":"EOCENE – EOCENE_OzRoyer"},{"lat":52,"du":96.5,"s":"EOCENE – EOCENE_OzRoyer"},{"lat":56,"du":93,"s":"EOCENE – EOCENE_OzRoyer"},{"lat":60,"du":87,"s":"EOCENE – EOCENE_OzRoyer"},{"lat":65,"du":74,"s":"EOCENE – EOCENE_OzRoyer"},{"lat":70,"du":57,"s":"EOCENE – EOCENE_OzRoyer"},{"lat":75,"du":44,"s":"EOCENE – EOCENE_OzRoyer"},{"lat":80,"du":37,"s":"EOCENE – EOCENE_OzRoyer"},{"lat":85,"du":32,"s":"EOCENE – EOCENE_OzRoyer"},{"lat":90,"du":29.5,"s":"EOCENE – EOCENE_OzRoyer"},
    {"lat":-90,"du":36.2,"s":"EOCENE – EOCENE_Oz1855"},{"lat":-85,"du":35.5,"s":"EOCENE – EOCENE_Oz1855"},{"lat":-80,"du":33.5,"s":"EOCENE – EOCENE_Oz1855"},{"lat":-76,"du":32.5,"s":"EOCENE – EOCENE_Oz1855"},{"lat":-72,"du":34.5,"s":"EOCENE – EOCENE_Oz1855"},{"lat":-69,"du":37.5,"s":"EOCENE – EOCENE_Oz1855"},{"lat":-65,"du":43,"s":"EOCENE – EOCENE_Oz1855"},{"lat":-62,"du":48.7,"s":"EOCENE – EOCENE_Oz1855"},{"lat":-58,"du":55,"s":"EOCENE – EOCENE_Oz1855"},{"lat":-55,"du":60,"s":"EOCENE – EOCENE_Oz1855"},{"lat":-52,"du":64,"s":"EOCENE – EOCENE_Oz1855"},{"lat":-48.3,"du":66.8,"s":"EOCENE – EOCENE_Oz1855"},{"lat":-46,"du":66.5,"s":"EOCENE – EOCENE_Oz1855"},{"lat":-43.7,"du":63.7,"s":"EOCENE – EOCENE_Oz1855"},{"lat":-41,"du":57,"s":"EOCENE – EOCENE_Oz1855"},{"lat":-37.9,"du":48.7,"s":"EOCENE – EOCENE_Oz1855"},{"lat":-35.5,"du":39,"s":"EOCENE – EOCENE_Oz1855"},{"lat":-33.3,"du":31.2,"s":"EOCENE – EOCENE_Oz1855"},{"lat":-30,"du":25,"s":"EOCENE – EOCENE_Oz1855"},{"lat":-27.5,"du":21.2,"s":"EOCENE – EOCENE_Oz1855"},{"lat":-24,"du":18,"s":"EOCENE – EOCENE_Oz1855"},{"lat":-20.5,"du":16.7,"s":"EOCENE – EOCENE_Oz1855"},{"lat":-15,"du":16.5,"s":"EOCENE – EOCENE_Oz1855"},{"lat":-11,"du":16.2,"s":"EOCENE – EOCENE_Oz1855"},{"lat":-5,"du":15.5,"s":"EOCENE – EOCENE_Oz1855"},{"lat":0,"du":15,"s":"EOCENE – EOCENE_Oz1855"},{"lat":5,"du":14.5,"s":"EOCENE – EOCENE_Oz1855"},{"lat":10,"du":14,"s":"EOCENE – EOCENE_Oz1855"},{"lat":15,"du":13.8,"s":"EOCENE – EOCENE_Oz1855"},{"lat":18.7,"du":13.2,"s":"EOCENE – EOCENE_Oz1855"},{"lat":21,"du":15,"s":"EOCENE – EOCENE_Oz1855"},{"lat":24,"du":20,"s":"EOCENE – EOCENE_Oz1855"},{"lat":26.8,"du":26.2,"s":"EOCENE – EOCENE_Oz1855"},{"lat":30,"du":35,"s":"EOCENE – EOCENE_Oz1855"},{"lat":33.8,"du":46.3,"s":"EOCENE – EOCENE_Oz1855"},{"lat":36.5,"du":55,"s":"EOCENE – EOCENE_Oz1855"},{"lat":39.5,"du":60,"s":"EOCENE – EOCENE_Oz1855"},{"lat":43,"du":65,"s":"EOCENE – EOCENE_Oz1855"},{"lat":46.5,"du":67.5,"s":"EOCENE – EOCENE_Oz1855"},{"lat":50,"du":69,"s":"EOCENE – EOCENE_Oz1855"},{"lat":53,"du":67.5,"s":"EOCENE – EOCENE_Oz1855"},{"lat":56.9,"du":63.7,"s":"EOCENE – EOCENE_Oz1855"},{"lat":61,"du":57,"s":"EOCENE – EOCENE_Oz1855"},{"lat":65,"du":51.2,"s":"EOCENE – EOCENE_Oz1855"},{"lat":70,"du":44,"s":"EOCENE – EOCENE_Oz1855"},{"lat":74.2,"du":38.8,"s":"EOCENE – EOCENE_Oz1855"},{"lat":79,"du":35,"s":"EOCENE – EOCENE_Oz1855"},{"lat":83.5,"du":32.5,"s":"EOCENE – EOCENE_Oz1855"},{"lat":87,"du":30.5,"s":"EOCENE – EOCENE_Oz1855"},{"lat":90,"du":29.5,"s":"EOCENE – EOCENE_Oz1855"}
  ]},
  "resolve": {"axis": {"x": "independent", "y": "independent"}},
  "layer": [
    {"mark": {"type": "line", "strokeWidth": 2, "color": "#000", "interpolate": "monotone", "clip": true},
     "encoding": {
       "x": {"field": "lat", "type": "quantitative", "scale": {"domain": [-90, 90], "nice": false, "zero": false},
             "axis": {"orient": "bottom", "values": [-90,-60,-30,0,30,60,90], "tickSize": -6, "labelPadding": 14, "title": "Latitude [° N]", "titleFontSize": 21, "titlePadding": 4}},
       "y": {"field": "du", "type": "quantitative", "scale": {"domain": [0, 150], "nice": false, "zero": false},
             "axis": {"orient": "left", "values": [0,20,40,60,80,100,120,140], "tickSize": -6, "labelPadding": 12, "title": "Dobson unit", "titleFontSize": 15, "titlePadding": 8}},
       "strokeDash": {"field": "s", "type": "nominal",
             "scale": {"domain": ["EOCENE – EOCENE_OzRoyer", "EOCENE – EOCENE_Oz1855"], "range": [[10, 5], [1, 0]]},
             "legend": {"orient": "none", "legendX": 14, "legendY": 19, "title": null, "symbolType": "stroke", "symbolSize": 784, "symbolStrokeWidth": 2, "symbolStrokeColor": "#000", "labelFontSize": 13, "labelColor": "#000", "labelLimit": 400, "labelOffset": 2, "clipHeight": 14, "rowPadding": 2, "padding": 0}}
     }},
    {"mark": {"type": "point", "opacity": 0}, "transform": [{"filter": "datum.lat == 0"}],
     "encoding": {
       "x": {"field": "lat", "type": "quantitative", "axis": {"orient": "top", "values": [-90,-60,-30,0,30,60,90], "tickSize": -6, "labels": false, "title": null}},
       "y": {"field": "du", "type": "quantitative", "axis": {"orient": "right", "values": [0,20,40,60,80,100,120,140], "tickSize": -6, "labels": false, "title": null}}
     }},
    {"mark": {"type": "point", "opacity": 0}, "transform": [{"filter": "datum.lat == 0"}],
     "encoding": {
       "x": {"field": "lat", "type": "quantitative", "axis": {"orient": "bottom", "values": [-80,-70,-50,-40,-20,-10,10,20,40,50,70,80], "tickSize": -3, "labels": false, "title": null}},
       "y": {"field": "du", "type": "quantitative", "axis": {"orient": "left", "values": [10,30,50,70,90,110,130], "tickSize": -3, "labels": false, "title": null}}
     }},
    {"mark": {"type": "point", "opacity": 0}, "transform": [{"filter": "datum.lat == 0"}],
     "encoding": {
       "x": {"field": "lat", "type": "quantitative", "axis": {"orient": "top", "values": [-80,-70,-50,-40,-20,-10,10,20,40,50,70,80], "tickSize": -3, "labels": false, "title": null}},
       "y": {"field": "du", "type": "quantitative", "axis": {"orient": "right", "values": [10,30,50,70,90,110,130], "tickSize": -3, "labels": false, "title": null}}
     }}
  ]
},
{
  "bounds": "flush",
  "spacing": 15,
  "hconcat": [
  {
    "width": 261, "height": 200,
    "title": {"text": "(b)  Ozone change [DU km⁻¹]", "dx": 0, "offset": 4},
    "data": {"values": [
{"lat":-90,"p":1,"v":0.25},{"lat":-82.5,"p":1,"v":0.25},{"lat":-75,"p":1,"v":0.25},{"lat":-67.5,"p":1,"v":0.25},{"lat":-60,"p":1,"v":0.25},{"lat":-52.5,"p":1,"v":0.25},{"lat":-45,"p":1,"v":0.25},{"lat":-37.5,"p":1,"v":0.25},{"lat":-30,"p":1,"v":0.25},{"lat":-22.5,"p":1,"v":0.25},{"lat":-15,"p":1,"v":0.25},{"lat":-7.5,"p":1,"v":0.25},{"lat":0,"p":1,"v":0.25},{"lat":7.5,"p":1,"v":0.25},{"lat":15,"p":1,"v":0.25},{"lat":22.5,"p":1,"v":0.25},{"lat":30,"p":1,"v":0.25},{"lat":37.5,"p":1,"v":0.25},{"lat":45,"p":1,"v":0.25},{"lat":52.5,"p":1,"v":0.25},{"lat":60,"p":1,"v":0.25},{"lat":67.5,"p":1,"v":0.25},{"lat":75,"p":1,"v":0.25},{"lat":82.5,"p":1,"v":0.25},{"lat":90,"p":1,"v":0.25},
{"lat":-90,"p":1.33,"v":0.25},{"lat":-82.5,"p":1.33,"v":0.25},{"lat":-75,"p":1.33,"v":0.25},{"lat":-67.5,"p":1.33,"v":0.25},{"lat":-60,"p":1.33,"v":0.25},{"lat":-52.5,"p":1.33,"v":0.25},{"lat":-45,"p":1.33,"v":0.25},{"lat":-37.5,"p":1.33,"v":0.25},{"lat":-30,"p":1.33,"v":0.25},{"lat":-22.5,"p":1.33,"v":0.25},{"lat":-15,"p":1.33,"v":0.25},{"lat":-7.5,"p":1.33,"v":0.25},{"lat":0,"p":1.33,"v":0.25},{"lat":7.5,"p":1.33,"v":0.25},{"lat":15,"p":1.33,"v":0.25},{"lat":22.5,"p":1.33,"v":0.25},{"lat":30,"p":1.33,"v":0.25},{"lat":37.5,"p":1.33,"v":0.25},{"lat":45,"p":1.33,"v":0.25},{"lat":52.5,"p":1.33,"v":0.25},{"lat":60,"p":1.33,"v":0.25},{"lat":67.5,"p":1.33,"v":0.25},{"lat":75,"p":1.33,"v":0.25},{"lat":82.5,"p":1.33,"v":0.25},{"lat":90,"p":1.33,"v":0.25},
{"lat":-90,"p":1.78,"v":0.25},{"lat":-82.5,"p":1.78,"v":0.25},{"lat":-75,"p":1.78,"v":0.25},{"lat":-67.5,"p":1.78,"v":0.25},{"lat":-60,"p":1.78,"v":0.25},{"lat":-52.5,"p":1.78,"v":0.25},{"lat":-45,"p":1.78,"v":0.25},{"lat":-37.5,"p":1.78,"v":0.25},{"lat":-30,"p":1.78,"v":0.25},{"lat":-22.5,"p":1.78,"v":0.25},{"lat":-15,"p":1.78,"v":0.25},{"lat":-7.5,"p":1.78,"v":0.25},{"lat":0,"p":1.78,"v":0.25},{"lat":7.5,"p":1.78,"v":0.25},{"lat":15,"p":1.78,"v":0.25},{"lat":22.5,"p":1.78,"v":0.25},{"lat":30,"p":1.78,"v":0.25},{"lat":37.5,"p":1.78,"v":0.25},{"lat":45,"p":1.78,"v":0.25},{"lat":52.5,"p":1.78,"v":0.25},{"lat":60,"p":1.78,"v":0.25},{"lat":67.5,"p":1.78,"v":0.25},{"lat":75,"p":1.78,"v":0.25},{"lat":82.5,"p":1.78,"v":0.25},{"lat":90,"p":1.78,"v":0.25},
{"lat":-90,"p":2.37,"v":0.25},{"lat":-82.5,"p":2.37,"v":0.25},{"lat":-75,"p":2.37,"v":0.25},{"lat":-67.5,"p":2.37,"v":0.25},{"lat":-60,"p":2.37,"v":0.75},{"lat":-52.5,"p":2.37,"v":0.75},{"lat":-45,"p":2.37,"v":0.75},{"lat":-37.5,"p":2.37,"v":0.75},{"lat":-30,"p":2.37,"v":0.75},{"lat":-22.5,"p":2.37,"v":0.75},{"lat":-15,"p":2.37,"v":0.75},{"lat":-7.5,"p":2.37,"v":0.75},{"lat":0,"p":2.37,"v":0.75},{"lat":7.5,"p":2.37,"v":0.75},{"lat":15,"p":2.37,"v":0.75},{"lat":22.5,"p":2.37,"v":0.75},{"lat":30,"p":2.37,"v":0.75},{"lat":37.5,"p":2.37,"v":0.75},{"lat":45,"p":2.37,"v":0.75},{"lat":52.5,"p":2.37,"v":0.75},{"lat":60,"p":2.37,"v":0.75},{"lat":67.5,"p":2.37,"v":0.75},{"lat":75,"p":2.37,"v":0.75},{"lat":82.5,"p":2.37,"v":0.25},{"lat":90,"p":2.37,"v":0.25},
{"lat":-90,"p":3.16,"v":0.75},{"lat":-82.5,"p":3.16,"v":0.75},{"lat":-75,"p":3.16,"v":0.75},{"lat":-67.5,"p":3.16,"v":0.75},{"lat":-60,"p":3.16,"v":0.75},{"lat":-52.5,"p":3.16,"v":0.75},{"lat":-45,"p":3.16,"v":0.75},{"lat":-37.5,"p":3.16,"v":0.75},{"lat":-30,"p":3.16,"v":0.75},{"lat":-22.5,"p":3.16,"v":0.75},{"lat":-15,"p":3.16,"v":0.75},{"lat":-7.5,"p":3.16,"v":0.75},{"lat":0,"p":3.16,"v":0.75},{"lat":7.5,"p":3.16,"v":0.75},{"lat":15,"p":3.16,"v":0.75},{"lat":22.5,"p":3.16,"v":0.75},{"lat":30,"p":3.16,"v":0.75},{"lat":37.5,"p":3.16,"v":0.75},{"lat":45,"p":3.16,"v":0.75},{"lat":52.5,"p":3.16,"v":0.75},{"lat":60,"p":3.16,"v":0.75},{"lat":67.5,"p":3.16,"v":0.75},{"lat":75,"p":3.16,"v":0.75},{"lat":82.5,"p":3.16,"v":0.75},{"lat":90,"p":3.16,"v":0.75},
{"lat":-90,"p":4.22,"v":0.75},{"lat":-82.5,"p":4.22,"v":0.75},{"lat":-75,"p":4.22,"v":0.75},{"lat":-67.5,"p":4.22,"v":0.75},{"lat":-60,"p":4.22,"v":0.75},{"lat":-52.5,"p":4.22,"v":0.75},{"lat":-45,"p":4.22,"v":0.75},{"lat":-37.5,"p":4.22,"v":0.75},{"lat":-30,"p":4.22,"v":1.25},{"lat":-22.5,"p":4.22,"v":1.25},{"lat":-15,"p":4.22,"v":1.25},{"lat":-7.5,"p":4.22,"v":1.25},{"lat":0,"p":4.22,"v":1.25},{"lat":7.5,"p":4.22,"v":1.25},{"lat":15,"p":4.22,"v":1.25},{"lat":22.5,"p":4.22,"v":1.25},{"lat":30,"p":4.22,"v":1.25},{"lat":37.5,"p":4.22,"v":1.25},{"lat":45,"p":4.22,"v":1.25},{"lat":52.5,"p":4.22,"v":1.25},{"lat":60,"p":4.22,"v":1.25},{"lat":67.5,"p":4.22,"v":0.75},{"lat":75,"p":4.22,"v":0.75},{"lat":82.5,"p":4.22,"v":0.75},{"lat":90,"p":4.22,"v":0.75},
{"lat":-90,"p":5.62,"v":0.75},{"lat":-82.5,"p":5.62,"v":0.75},{"lat":-75,"p":5.62,"v":0.75},{"lat":-67.5,"p":5.62,"v":0.75},{"lat":-60,"p":5.62,"v":1.25},{"lat":-52.5,"p":5.62,"v":1.25},{"lat":-45,"p":5.62,"v":1.25},{"lat":-37.5,"p":5.62,"v":1.25},{"lat":-30,"p":5.62,"v":1.25},{"lat":-22.5,"p":5.62,"v":1.25},{"lat":-15,"p":5.62,"v":1.75},{"lat":-7.5,"p":5.62,"v":1.75},{"lat":0,"p":5.62,"v":1.75},{"lat":7.5,"p":5.62,"v":1.75},{"lat":15,"p":5.62,"v":1.75},{"lat":22.5,"p":5.62,"v":1.75},{"lat":30,"p":5.62,"v":1.75},{"lat":37.5,"p":5.62,"v":1.75},{"lat":45,"p":5.62,"v":1.25},{"lat":52.5,"p":5.62,"v":1.25},{"lat":60,"p":5.62,"v":1.25},{"lat":67.5,"p":5.62,"v":1.25},{"lat":75,"p":5.62,"v":0.75},{"lat":82.5,"p":5.62,"v":0.75},{"lat":90,"p":5.62,"v":0.75},
{"lat":-90,"p":7.5,"v":1.25},{"lat":-82.5,"p":7.5,"v":1.25},{"lat":-75,"p":7.5,"v":1.25},{"lat":-67.5,"p":7.5,"v":1.25},{"lat":-60,"p":7.5,"v":1.25},{"lat":-52.5,"p":7.5,"v":1.25},{"lat":-45,"p":7.5,"v":1.25},{"lat":-37.5,"p":7.5,"v":1.25},{"lat":-30,"p":7.5,"v":1.25},{"lat":-22.5,"p":7.5,"v":1.25},{"lat":-15,"p":7.5,"v":1.75},{"lat":-7.5,"p":7.5,"v":1.75},{"lat":0,"p":7.5,"v":1.75},{"lat":7.5,"p":7.5,"v":1.75},{"lat":15,"p":7.5,"v":1.75},{"lat":22.5,"p":7.5,"v":1.75},{"lat":30,"p":7.5,"v":1.75},{"lat":37.5,"p":7.5,"v":1.75},{"lat":45,"p":7.5,"v":1.75},{"lat":52.5,"p":7.5,"v":1.25},{"lat":60,"p":7.5,"v":1.25},{"lat":67.5,"p":7.5,"v":1.25},{"lat":75,"p":7.5,"v":1.25},{"lat":82.5,"p":7.5,"v":1.25},{"lat":90,"p":7.5,"v":1.25},
{"lat":-90,"p":10,"v":1.25},{"lat":-82.5,"p":10,"v":1.25},{"lat":-75,"p":10,"v":1.25},{"lat":-67.5,"p":10,"v":1.25},{"lat":-60,"p":10,"v":1.25},{"lat":-52.5,"p":10,"v":1.25},{"lat":-45,"p":10,"v":1.25},{"lat":-37.5,"p":10,"v":1.25},{"lat":-30,"p":10,"v":1.25},{"lat":-22.5,"p":10,"v":1.25},{"lat":-15,"p":10,"v":1.25},{"lat":-7.5,"p":10,"v":1.25},{"lat":0,"p":10,"v":1.25},{"lat":7.5,"p":10,"v":1.25},{"lat":15,"p":10,"v":1.25},{"lat":22.5,"p":10,"v":1.25},{"lat":30,"p":10,"v":1.75},{"lat":37.5,"p":10,"v":1.75},{"lat":45,"p":10,"v":1.75},{"lat":52.5,"p":10,"v":1.75},{"lat":60,"p":10,"v":1.75},{"lat":67.5,"p":10,"v":1.75},{"lat":75,"p":10,"v":1.25},{"lat":82.5,"p":10,"v":1.25},{"lat":90,"p":10,"v":1.25},
{"lat":-90,"p":13.3,"v":1.75},{"lat":-82.5,"p":13.3,"v":1.75},{"lat":-75,"p":13.3,"v":1.75},{"lat":-67.5,"p":13.3,"v":1.75},{"lat":-60,"p":13.3,"v":1.75},{"lat":-52.5,"p":13.3,"v":1.75},{"lat":-45,"p":13.3,"v":1.75},{"lat":-37.5,"p":13.3,"v":1.25},{"lat":-30,"p":13.3,"v":1.25},{"lat":-22.5,"p":13.3,"v":0.75},{"lat":-15,"p":13.3,"v":0.25},{"lat":-7.5,"p":13.3,"v":0.25},{"lat":0,"p":13.3,"v":0.25},{"lat":7.5,"p":13.3,"v":0.25},{"lat":15,"p":13.3,"v":0.25},{"lat":22.5,"p":13.3,"v":0.75},{"lat":30,"p":13.3,"v":1.25},{"lat":37.5,"p":13.3,"v":1.75},{"lat":45,"p":13.3,"v":1.75},{"lat":52.5,"p":13.3,"v":1.75},{"lat":60,"p":13.3,"v":1.75},{"lat":67.5,"p":13.3,"v":1.75},{"lat":75,"p":13.3,"v":1.75},{"lat":82.5,"p":13.3,"v":1.75},{"lat":90,"p":13.3,"v":1.25},
{"lat":-90,"p":17.8,"v":2.25},{"lat":-82.5,"p":17.8,"v":2.25},{"lat":-75,"p":17.8,"v":2.25},{"lat":-67.5,"p":17.8,"v":2.25},{"lat":-60,"p":17.8,"v":2.25},{"lat":-52.5,"p":17.8,"v":1.75},{"lat":-45,"p":17.8,"v":1.75},{"lat":-37.5,"p":17.8,"v":1.25},{"lat":-30,"p":17.8,"v":0.75},{"lat":-22.5,"p":17.8,"v":0.25},{"lat":-15,"p":17.8,"v":-0.25},{"lat":-7.5,"p":17.8,"v":-0.75},{"lat":0,"p":17.8,"v":-0.75},{"lat":7.5,"p":17.8,"v":-0.75},{"lat":15,"p":17.8,"v":-0.75},{"lat":22.5,"p":17.8,"v":-0.25},{"lat":30,"p":17.8,"v":0.75},{"lat":37.5,"p":17.8,"v":1.75},{"lat":45,"p":17.8,"v":2.25},{"lat":52.5,"p":17.8,"v":2.25},{"lat":60,"p":17.8,"v":2.25},{"lat":67.5,"p":17.8,"v":2.25},{"lat":75,"p":17.8,"v":2.25},{"lat":82.5,"p":17.8,"v":1.75},{"lat":90,"p":17.8,"v":1.75},
{"lat":-90,"p":23.7,"v":2.75},{"lat":-82.5,"p":23.7,"v":2.75},{"lat":-75,"p":23.7,"v":2.25},{"lat":-67.5,"p":23.7,"v":2.25},{"lat":-60,"p":23.7,"v":2.25},{"lat":-52.5,"p":23.7,"v":2.25},{"lat":-45,"p":23.7,"v":1.75},{"lat":-37.5,"p":23.7,"v":1.25},{"lat":-30,"p":23.7,"v":0.75},{"lat":-22.5,"p":23.7,"v":-0.75},{"lat":-15,"p":23.7,"v":-1.25},{"lat":-7.5,"p":23.7,"v":-1.25},{"lat":0,"p":23.7,"v":-1.25},{"lat":7.5,"p":23.7,"v":-1.25},{"lat":15,"p":23.7,"v":-1.25},{"lat":22.5,"p":23.7,"v":-0.75},{"lat":30,"p":23.7,"v":0.75},{"lat":37.5,"p":23.7,"v":1.75},{"lat":45,"p":23.7,"v":2.25},{"lat":52.5,"p":23.7,"v":2.25},{"lat":60,"p":23.7,"v":2.25},{"lat":67.5,"p":23.7,"v":2.25},{"lat":75,"p":23.7,"v":2.25},{"lat":82.5,"p":23.7,"v":2.25},{"lat":90,"p":23.7,"v":2.25},
{"lat":-90,"p":31.6,"v":2.75},{"lat":-82.5,"p":31.6,"v":2.75},{"lat":-75,"p":31.6,"v":2.25},{"lat":-67.5,"p":31.6,"v":2.25},{"lat":-60,"p":31.6,"v":2.25},{"lat":-52.5,"p":31.6,"v":2.25},{"lat":-45,"p":31.6,"v":2.25},{"lat":-37.5,"p":31.6,"v":1.25},{"lat":-30,"p":31.6,"v":0.25},{"lat":-22.5,"p":31.6,"v":-1.25},{"lat":-15,"p":31.6,"v":-1.75},{"lat":-7.5,"p":31.6,"v":-1.75},{"lat":0,"p":31.6,"v":-1.75},{"lat":7.5,"p":31.6,"v":-1.75},{"lat":15,"p":31.6,"v":-1.75},{"lat":22.5,"p":31.6,"v":-1.25},{"lat":30,"p":31.6,"v":0.25},{"lat":37.5,"p":31.6,"v":1.75},{"lat":45,"p":31.6,"v":2.25},{"lat":52.5,"p":31.6,"v":2.75},{"lat":60,"p":31.6,"v":2.75},{"lat":67.5,"p":31.6,"v":2.75},{"lat":75,"p":31.6,"v":2.25},{"lat":82.5,"p":31.6,"v":2.25},{"lat":90,"p":31.6,"v":2.25},
{"lat":-90,"p":42.2,"v":2.25},{"lat":-82.5,"p":42.2,"v":2.25},{"lat":-75,"p":42.2,"v":2.25},{"lat":-67.5,"p":42.2,"v":2.25},{"lat":-60,"p":42.2,"v":2.25},{"lat":-52.5,"p":42.2,"v":2.25},{"lat":-45,"p":42.2,"v":2.25},{"lat":-37.5,"p":42.2,"v":1.25},{"lat":-30,"p":42.2,"v":0.25},{"lat":-22.5,"p":42.2,"v":-1.25},{"lat":-15,"p":42.2,"v":-1.75},{"lat":-7.5,"p":42.2,"v":-2.25},{"lat":0,"p":42.2,"v":-2.25},{"lat":7.5,"p":42.2,"v":-2.25},{"lat":15,"p":42.2,"v":-2.25},{"lat":22.5,"p":42.2,"v":-1.25},{"lat":30,"p":42.2,"v":-0.25},{"lat":37.5,"p":42.2,"v":1.75},{"lat":45,"p":42.2,"v":2.25},{"lat":52.5,"p":42.2,"v":2.25},{"lat":60,"p":42.2,"v":2.25},{"lat":67.5,"p":42.2,"v":2.25},{"lat":75,"p":42.2,"v":2.25},{"lat":82.5,"p":42.2,"v":2.25},{"lat":90,"p":42.2,"v":2.25},
{"lat":-90,"p":56.2,"v":1.25},{"lat":-82.5,"p":56.2,"v":1.25},{"lat":-75,"p":56.2,"v":1.25},{"lat":-67.5,"p":56.2,"v":1.25},{"lat":-60,"p":56.2,"v":1.75},{"lat":-52.5,"p":56.2,"v":2.25},{"lat":-45,"p":56.2,"v":2.75},{"lat":-37.5,"p":56.2,"v":1.25},{"lat":-30,"p":56.2,"v":0.25},{"lat":-22.5,"p":56.2,"v":-1.25},{"lat":-15,"p":56.2,"v":-1.75},{"lat":-7.5,"p":56.2,"v":-2.25},{"lat":0,"p":56.2,"v":-2.75},{"lat":7.5,"p":56.2,"v":-2.75},{"lat":15,"p":56.2,"v":-2.25},{"lat":22.5,"p":56.2,"v":-1.25},{"lat":30,"p":56.2,"v":-0.25},{"lat":37.5,"p":56.2,"v":2.25},{"lat":45,"p":56.2,"v":2.75},{"lat":52.5,"p":56.2,"v":3.25},{"lat":60,"p":56.2,"v":3.25},{"lat":67.5,"p":56.2,"v":2.75},{"lat":75,"p":56.2,"v":2.25},{"lat":82.5,"p":56.2,"v":2.25},{"lat":90,"p":56.2,"v":2.25},
{"lat":-90,"p":75,"v":0.25},{"lat":-82.5,"p":75,"v":0.25},{"lat":-75,"p":75,"v":0.25},{"lat":-67.5,"p":75,"v":0.25},{"lat":-60,"p":75,"v":1.75},{"lat":-52.5,"p":75,"v":3.75},{"lat":-45,"p":75,"v":4.25},{"lat":-37.5,"p":75,"v":3.25},{"lat":-30,"p":75,"v":0.25},{"lat":-22.5,"p":75,"v":-0.75},{"lat":-15,"p":75,"v":-1.25},{"lat":-7.5,"p":75,"v":-1.25},{"lat":0,"p":75,"v":-1.25},{"lat":7.5,"p":75,"v":-1.25},{"lat":15,"p":75,"v":-1.25},{"lat":22.5,"p":75,"v":-0.75},{"lat":30,"p":75,"v":0.25},{"lat":37.5,"p":75,"v":3.25},{"lat":45,"p":75,"v":4.75},{"lat":52.5,"p":75,"v":4.75},{"lat":60,"p":75,"v":4.75},{"lat":67.5,"p":75,"v":3.75},{"lat":75,"p":75,"v":3.25},{"lat":82.5,"p":75,"v":2.25},{"lat":90,"p":75,"v":2.25},
{"lat":-90,"p":100,"v":-0.25},{"lat":-82.5,"p":100,"v":-0.25},{"lat":-75,"p":100,"v":-0.25},{"lat":-67.5,"p":100,"v":0.25},{"lat":-60,"p":100,"v":2.75},{"lat":-52.5,"p":100,"v":4.25},{"lat":-45,"p":100,"v":4.75},{"lat":-37.5,"p":100,"v":3.75},{"lat":-30,"p":100,"v":0.25},{"lat":-22.5,"p":100,"v":0.25},{"lat":-15,"p":100,"v":0.25},{"lat":-7.5,"p":100,"v":0.25},{"lat":0,"p":100,"v":0.25},{"lat":7.5,"p":100,"v":0.25},{"lat":15,"p":100,"v":0.25},{"lat":22.5,"p":100,"v":0.25},{"lat":30,"p":100,"v":0.25},{"lat":37.5,"p":100,"v":3.25},{"lat":45,"p":100,"v":4.75},{"lat":52.5,"p":100,"v":4.75},{"lat":60,"p":100,"v":4.75},{"lat":67.5,"p":100,"v":4.25},{"lat":75,"p":100,"v":3.75},{"lat":82.5,"p":100,"v":2.75},{"lat":90,"p":100,"v":1.75},
{"lat":-90,"p":133,"v":-0.75},{"lat":-82.5,"p":133,"v":-0.75},{"lat":-75,"p":133,"v":-0.75},{"lat":-67.5,"p":133,"v":-0.75},{"lat":-60,"p":133,"v":-0.25},{"lat":-52.5,"p":133,"v":3.25},{"lat":-45,"p":133,"v":4.25},{"lat":-37.5,"p":133,"v":3.25},{"lat":-30,"p":133,"v":0.25},{"lat":-22.5,"p":133,"v":0.25},{"lat":-15,"p":133,"v":0.25},{"lat":-7.5,"p":133,"v":0.25},{"lat":0,"p":133,"v":0.25},{"lat":7.5,"p":133,"v":0.25},{"lat":15,"p":133,"v":0.25},{"lat":22.5,"p":133,"v":0.25},{"lat":30,"p":133,"v":0.25},{"lat":37.5,"p":133,"v":2.75},{"lat":45,"p":133,"v":3.75},{"lat":52.5,"p":133,"v":4.25},{"lat":60,"p":133,"v":4.25},{"lat":67.5,"p":133,"v":3.75},{"lat":75,"p":133,"v":3.25},{"lat":82.5,"p":133,"v":1.75},{"lat":90,"p":133,"v":0.75},
{"lat":-90,"p":178,"v":-1.75},{"lat":-82.5,"p":178,"v":-1.75},{"lat":-75,"p":178,"v":-1.75},{"lat":-67.5,"p":178,"v":-1.75},{"lat":-60,"p":178,"v":-1.75},{"lat":-52.5,"p":178,"v":-1.25},{"lat":-45,"p":178,"v":-0.75},{"lat":-37.5,"p":178,"v":0.25},{"lat":-30,"p":178,"v":0.25},{"lat":-22.5,"p":178,"v":0.25},{"lat":-15,"p":178,"v":0.25},{"lat":-7.5,"p":178,"v":0.25},{"lat":0,"p":178,"v":0.25},{"lat":7.5,"p":178,"v":0.25},{"lat":15,"p":178,"v":0.25},{"lat":22.5,"p":178,"v":0.25},{"lat":30,"p":178,"v":0.25},{"lat":37.5,"p":178,"v":0.25},{"lat":45,"p":178,"v":0.25},{"lat":52.5,"p":178,"v":-0.75},{"lat":60,"p":178,"v":-1.25},{"lat":67.5,"p":178,"v":-1.25},{"lat":75,"p":178,"v":-1.75},{"lat":82.5,"p":178,"v":-1.75},{"lat":90,"p":178,"v":-1.75},
{"lat":-90,"p":237,"v":-1.75},{"lat":-82.5,"p":237,"v":-2.25},{"lat":-75,"p":237,"v":-2.75},{"lat":-67.5,"p":237,"v":-2.25},{"lat":-60,"p":237,"v":-2.25},{"lat":-52.5,"p":237,"v":-1.75},{"lat":-45,"p":237,"v":-1.25},{"lat":-37.5,"p":237,"v":-0.25},{"lat":-30,"p":237,"v":0.25},{"lat":-22.5,"p":237,"v":0.25},{"lat":-15,"p":237,"v":0.25},{"lat":-7.5,"p":237,"v":0.25},{"lat":0,"p":237,"v":0.25},{"lat":7.5,"p":237,"v":0.25},{"lat":15,"p":237,"v":0.25},{"lat":22.5,"p":237,"v":0.25},{"lat":30,"p":237,"v":0.25},{"lat":37.5,"p":237,"v":-0.75},{"lat":45,"p":237,"v":-1.25},{"lat":52.5,"p":237,"v":-1.75},{"lat":60,"p":237,"v":-2.25},{"lat":67.5,"p":237,"v":-2.25},{"lat":75,"p":237,"v":-2.75},{"lat":82.5,"p":237,"v":-3.75},{"lat":90,"p":237,"v":-3.75},
{"lat":-90,"p":316,"v":-1.25},{"lat":-82.5,"p":316,"v":-1.25},{"lat":-75,"p":316,"v":-1.25},{"lat":-67.5,"p":316,"v":-1.25},{"lat":-60,"p":316,"v":-1.25},{"lat":-52.5,"p":316,"v":-0.75},{"lat":-45,"p":316,"v":-0.75},{"lat":-37.5,"p":316,"v":0.25},{"lat":-30,"p":316,"v":0.25},{"lat":-22.5,"p":316,"v":0.25},{"lat":-15,"p":316,"v":0.25},{"lat":-7.5,"p":316,"v":0.25},{"lat":0,"p":316,"v":0.25},{"lat":7.5,"p":316,"v":0.25},{"lat":15,"p":316,"v":0.25},{"lat":22.5,"p":316,"v":0.25},{"lat":30,"p":316,"v":0.25},{"lat":37.5,"p":316,"v":-0.75},{"lat":45,"p":316,"v":-1.25},{"lat":52.5,"p":316,"v":-1.75},{"lat":60,"p":316,"v":-2.25},{"lat":67.5,"p":316,"v":-2.75},{"lat":75,"p":316,"v":-2.75},{"lat":82.5,"p":316,"v":-3.25},{"lat":90,"p":316,"v":-3.25},
{"lat":-90,"p":422,"v":-0.25},{"lat":-82.5,"p":422,"v":-0.25},{"lat":-75,"p":422,"v":-0.25},{"lat":-67.5,"p":422,"v":-0.25},{"lat":-60,"p":422,"v":-0.25},{"lat":-52.5,"p":422,"v":0.25},{"lat":-45,"p":422,"v":0.25},{"lat":-37.5,"p":422,"v":0.25},{"lat":-30,"p":422,"v":0.25},{"lat":-22.5,"p":422,"v":0.25},{"lat":-15,"p":422,"v":0.25},{"lat":-7.5,"p":422,"v":0.25},{"lat":0,"p":422,"v":0.25},{"lat":7.5,"p":422,"v":0.25},{"lat":15,"p":422,"v":0.25},{"lat":22.5,"p":422,"v":0.25},{"lat":30,"p":422,"v":0.25},{"lat":37.5,"p":422,"v":0.25},{"lat":45,"p":422,"v":-0.75},{"lat":52.5,"p":422,"v":-0.75},{"lat":60,"p":422,"v":-1.25},{"lat":67.5,"p":422,"v":-1.25},{"lat":75,"p":422,"v":-1.25},{"lat":82.5,"p":422,"v":-1.25},{"lat":90,"p":422,"v":-1.25},
{"lat":-90,"p":562,"v":0.75},{"lat":-82.5,"p":562,"v":0.75},{"lat":-75,"p":562,"v":0.75},{"lat":-67.5,"p":562,"v":0.75},{"lat":-60,"p":562,"v":0.75},{"lat":-52.5,"p":562,"v":0.75},{"lat":-45,"p":562,"v":0.75},{"lat":-37.5,"p":562,"v":0.75},{"lat":-30,"p":562,"v":0.25},{"lat":-22.5,"p":562,"v":0.25},{"lat":-15,"p":562,"v":0.75},{"lat":-7.5,"p":562,"v":0.75},{"lat":0,"p":562,"v":0.75},{"lat":7.5,"p":562,"v":0.75},{"lat":15,"p":562,"v":0.25},{"lat":22.5,"p":562,"v":0.25},{"lat":30,"p":562,"v":0.25},{"lat":37.5,"p":562,"v":0.25},{"lat":45,"p":562,"v":0.25},{"lat":52.5,"p":562,"v":0.25},{"lat":60,"p":562,"v":-0.25},{"lat":67.5,"p":562,"v":-0.25},{"lat":75,"p":562,"v":-0.25},{"lat":82.5,"p":562,"v":-0.25},{"lat":90,"p":562,"v":-0.25},
{"lat":-90,"p":750,"v":0.75},{"lat":-82.5,"p":750,"v":0.75},{"lat":-75,"p":750,"v":0.75},{"lat":-67.5,"p":750,"v":0.75},{"lat":-60,"p":750,"v":0.75},{"lat":-52.5,"p":750,"v":0.75},{"lat":-45,"p":750,"v":0.75},{"lat":-37.5,"p":750,"v":0.75},{"lat":-30,"p":750,"v":0.75},{"lat":-22.5,"p":750,"v":0.75},{"lat":-15,"p":750,"v":0.75},{"lat":-7.5,"p":750,"v":0.75},{"lat":0,"p":750,"v":0.75},{"lat":7.5,"p":750,"v":0.75},{"lat":15,"p":750,"v":0.75},{"lat":22.5,"p":750,"v":0.75},{"lat":30,"p":750,"v":0.75},{"lat":37.5,"p":750,"v":0.75},{"lat":45,"p":750,"v":0.75},{"lat":52.5,"p":750,"v":0.75},{"lat":60,"p":750,"v":0.75},{"lat":67.5,"p":750,"v":0.75},{"lat":75,"p":750,"v":0.75},{"lat":82.5,"p":750,"v":0.75},{"lat":90,"p":750,"v":0.75},
{"lat":-90,"p":1000,"v":1.25},{"lat":-82.5,"p":1000,"v":1.25},{"lat":-75,"p":1000,"v":1.25},{"lat":-67.5,"p":1000,"v":1.25},{"lat":-60,"p":1000,"v":0.75},{"lat":-52.5,"p":1000,"v":0.75},{"lat":-45,"p":1000,"v":0.75},{"lat":-37.5,"p":1000,"v":0.75},{"lat":-30,"p":1000,"v":0.75},{"lat":-22.5,"p":1000,"v":0.75},{"lat":-15,"p":1000,"v":0.75},{"lat":-7.5,"p":1000,"v":0.75},{"lat":0,"p":1000,"v":0.75},{"lat":7.5,"p":1000,"v":0.75},{"lat":15,"p":1000,"v":0.75},{"lat":22.5,"p":1000,"v":0.75},{"lat":30,"p":1000,"v":0.75},{"lat":37.5,"p":1000,"v":0.75},{"lat":45,"p":1000,"v":0.75},{"lat":52.5,"p":1000,"v":0.75},{"lat":60,"p":1000,"v":0.75},{"lat":67.5,"p":1000,"v":0.75},{"lat":75,"p":1000,"v":0.75},{"lat":82.5,"p":1000,"v":0.75},{"lat":90,"p":1000,"v":0.75}
    ]},
    "resolve": {"axis": {"x": "independent", "y": "independent"}},
    "layer": [
      {"mark": {"type": "rect", "width": 11.4, "height": 8.6, "clip": true},
       "encoding": {
         "x": {"field": "lat", "type": "quantitative", "scale": {"domain": [-90, 90], "nice": false, "zero": false},
               "axis": {"orient": "bottom", "values": [-90,-60,-30,0,30,60,90], "tickSize": -6, "labelPadding": 14, "title": "Latitude [° N]", "titleFontSize": 21, "titlePadding": 4}},
         "y": {"field": "p", "type": "quantitative", "scale": {"type": "log", "domain": [0.836, 1074], "reverse": true, "nice": false},
               "axis": {"orient": "left", "values": [1,10,100,1000], "format": "d", "tickSize": -6, "labelPadding": 9, "title": "Pressure [hPa]", "titleFontSize": 15, "titlePadding": 13}},
         "color": {"field": "v", "type": "quantitative",
               "scale": {"type": "threshold", "domain": [-4.5,-4,-3.5,-3,-2.5,-2,-1.5,-1,-0.5,0,0.5,1,1.5,2,2.5,3,3.5,4,4.5],
                         "range": ["#053061","#134b87","#1f63a8","#2f79b5","#4291c2","#5fa5cd","#86bdda","#a9d0e5","#cae1ee","#e6eff5","#f9ede7","#fbd9c8","#f8c2a7","#f4a688","#ea8a6e","#da6a55","#c84a43","#b52a35","#9c1229","#67001f"]},
               "legend": null}
       }},
      {"data": {"name": "bd"}, "transform": [{"filter": "datum.g == 'A'"}],
       "mark": {"type": "area", "interpolate": "monotone", "stroke": "#333", "strokeWidth": 0.9, "clip": true},
       "encoding": {"x": {"field": "lat", "type": "quantitative", "axis": null}, "y": {"field": "t", "type": "quantitative", "axis": null, "stack": null}, "y2": {"field": "b"}, "detail": {"field": "id"},
         "color": {"field": "v", "type": "quantitative", "legend": null, "scale": {"type": "threshold", "domain": [-4.5,-4,-3.5,-3,-2.5,-2,-1.5,-1,-0.5,0,0.5,1,1.5,2,2.5,3,3.5,4,4.5], "range": ["#053061","#134b87","#1f63a8","#2f79b5","#4291c2","#5fa5cd","#86bdda","#a9d0e5","#cae1ee","#e6eff5","#f9ede7","#fbd9c8","#f8c2a7","#f4a688","#ea8a6e","#da6a55","#c84a43","#b52a35","#9c1229","#67001f"]}}}},
      {"data": {"name": "bd"}, "transform": [{"filter": "datum.g == 'B'"}],
       "mark": {"type": "area", "interpolate": "monotone", "stroke": "#333", "strokeWidth": 0.9, "clip": true},
       "encoding": {"x": {"field": "lat", "type": "quantitative", "axis": null}, "y": {"field": "t", "type": "quantitative", "axis": null, "stack": null}, "y2": {"field": "b"}, "detail": {"field": "id"},
         "color": {"field": "v", "type": "quantitative", "legend": null, "scale": {"type": "threshold", "domain": [-4.5,-4,-3.5,-3,-2.5,-2,-1.5,-1,-0.5,0,0.5,1,1.5,2,2.5,3,3.5,4,4.5], "range": ["#053061","#134b87","#1f63a8","#2f79b5","#4291c2","#5fa5cd","#86bdda","#a9d0e5","#cae1ee","#e6eff5","#f9ede7","#fbd9c8","#f8c2a7","#f4a688","#ea8a6e","#da6a55","#c84a43","#b52a35","#9c1229","#67001f"]}}}},
      {"data": {"name": "bd"}, "transform": [{"filter": "datum.g == 'EF'"}],
       "mark": {"type": "area", "interpolate": "monotone", "clip": true},
       "encoding": {"x": {"field": "lat", "type": "quantitative", "axis": null}, "y": {"field": "t", "type": "quantitative", "axis": null, "stack": null}, "y2": {"field": "b"}, "detail": {"field": "id"},
         "color": {"field": "v", "type": "quantitative", "legend": null, "scale": {"type": "threshold", "domain": [-4.5,-4,-3.5,-3,-2.5,-2,-1.5,-1,-0.5,0,0.5,1,1.5,2,2.5,3,3.5,4,4.5], "range": ["#053061","#134b87","#1f63a8","#2f79b5","#4291c2","#5fa5cd","#86bdda","#a9d0e5","#cae1ee","#e6eff5","#f9ede7","#fbd9c8","#f8c2a7","#f4a688","#ea8a6e","#da6a55","#c84a43","#b52a35","#9c1229","#67001f"]}}}},
      {"data": {"name": "bd"}, "transform": [{"filter": "datum.g == 'T'"}],
       "mark": {"type": "area", "interpolate": "monotone", "stroke": "#333", "strokeWidth": 0.9, "clip": true},
       "encoding": {"x": {"field": "lat", "type": "quantitative", "axis": null}, "y": {"field": "t", "type": "quantitative", "axis": null, "stack": null}, "y2": {"field": "b"}, "detail": {"field": "id"},
         "color": {"field": "v", "type": "quantitative", "legend": null, "scale": {"type": "threshold", "domain": [-4.5,-4,-3.5,-3,-2.5,-2,-1.5,-1,-0.5,0,0.5,1,1.5,2,2.5,3,3.5,4,4.5], "range": ["#053061","#134b87","#1f63a8","#2f79b5","#4291c2","#5fa5cd","#86bdda","#a9d0e5","#cae1ee","#e6eff5","#f9ede7","#fbd9c8","#f8c2a7","#f4a688","#ea8a6e","#da6a55","#c84a43","#b52a35","#9c1229","#67001f"]}}}},
      {"data": {"name": "bd"}, "transform": [{"filter": "datum.g == 'W'"}],
       "mark": {"type": "area", "interpolate": "monotone", "clip": true},
       "encoding": {"x": {"field": "lat", "type": "quantitative", "axis": null}, "y": {"field": "t", "type": "quantitative", "axis": null, "stack": null}, "y2": {"field": "b"}, "detail": {"field": "id"},
         "color": {"field": "v", "type": "quantitative", "legend": null, "scale": {"type": "threshold", "domain": [-4.5,-4,-3.5,-3,-2.5,-2,-1.5,-1,-0.5,0,0.5,1,1.5,2,2.5,3,3.5,4,4.5], "range": ["#053061","#134b87","#1f63a8","#2f79b5","#4291c2","#5fa5cd","#86bdda","#a9d0e5","#cae1ee","#e6eff5","#f9ede7","#fbd9c8","#f8c2a7","#f4a688","#ea8a6e","#da6a55","#c84a43","#b52a35","#9c1229","#67001f"]}}}},
      {"data": {"name": "bd"}, "transform": [{"filter": "datum.g == 'S'"}],
       "mark": {"type": "area", "interpolate": "monotone", "stroke": "#333", "strokeWidth": 0.9, "clip": true},
       "encoding": {"x": {"field": "lat", "type": "quantitative", "axis": null}, "y": {"field": "t", "type": "quantitative", "axis": null, "stack": null}, "y2": {"field": "b"}, "detail": {"field": "id"},
         "color": {"field": "v", "type": "quantitative", "legend": null, "scale": {"type": "threshold", "domain": [-4.5,-4,-3.5,-3,-2.5,-2,-1.5,-1,-0.5,0,0.5,1,1.5,2,2.5,3,3.5,4,4.5], "range": ["#053061","#134b87","#1f63a8","#2f79b5","#4291c2","#5fa5cd","#86bdda","#a9d0e5","#cae1ee","#e6eff5","#f9ede7","#fbd9c8","#f8c2a7","#f4a688","#ea8a6e","#da6a55","#c84a43","#b52a35","#9c1229","#67001f"]}}}},
      {"data": {"name": "bd"}, "transform": [{"filter": "datum.g == 'P1'"}],
       "mark": {"type": "area", "interpolate": "monotone", "stroke": "#333", "strokeWidth": 0.9, "clip": true},
       "encoding": {"x": {"field": "lat", "type": "quantitative", "axis": null}, "y": {"field": "t", "type": "quantitative", "axis": null, "stack": null}, "y2": {"field": "b"}, "detail": {"field": "id"},
         "color": {"field": "v", "type": "quantitative", "legend": null, "scale": {"type": "threshold", "domain": [-4.5,-4,-3.5,-3,-2.5,-2,-1.5,-1,-0.5,0,0.5,1,1.5,2,2.5,3,3.5,4,4.5], "range": ["#053061","#134b87","#1f63a8","#2f79b5","#4291c2","#5fa5cd","#86bdda","#a9d0e5","#cae1ee","#e6eff5","#f9ede7","#fbd9c8","#f8c2a7","#f4a688","#ea8a6e","#da6a55","#c84a43","#b52a35","#9c1229","#67001f"]}}}},
      {"data": {"name": "bd"}, "transform": [{"filter": "datum.g == 'P2'"}],
       "mark": {"type": "area", "interpolate": "monotone", "stroke": "#333", "strokeWidth": 0.9, "clip": true},
       "encoding": {"x": {"field": "lat", "type": "quantitative", "axis": null}, "y": {"field": "t", "type": "quantitative", "axis": null, "stack": null}, "y2": {"field": "b"}, "detail": {"field": "id"},
         "color": {"field": "v", "type": "quantitative", "legend": null, "scale": {"type": "threshold", "domain": [-4.5,-4,-3.5,-3,-2.5,-2,-1.5,-1,-0.5,0,0.5,1,1.5,2,2.5,3,3.5,4,4.5], "range": ["#053061","#134b87","#1f63a8","#2f79b5","#4291c2","#5fa5cd","#86bdda","#a9d0e5","#cae1ee","#e6eff5","#f9ede7","#fbd9c8","#f8c2a7","#f4a688","#ea8a6e","#da6a55","#c84a43","#b52a35","#9c1229","#67001f"]}}}},
      {"data": {"name": "bd"}, "transform": [{"filter": "datum.g == 'P3'"}],
       "mark": {"type": "area", "interpolate": "monotone", "stroke": "#333", "strokeWidth": 0.9, "clip": true},
       "encoding": {"x": {"field": "lat", "type": "quantitative", "axis": null}, "y": {"field": "t", "type": "quantitative", "axis": null, "stack": null}, "y2": {"field": "b"}, "detail": {"field": "id"},
         "color": {"field": "v", "type": "quantitative", "legend": null, "scale": {"type": "threshold", "domain": [-4.5,-4,-3.5,-3,-2.5,-2,-1.5,-1,-0.5,0,0.5,1,1.5,2,2.5,3,3.5,4,4.5], "range": ["#053061","#134b87","#1f63a8","#2f79b5","#4291c2","#5fa5cd","#86bdda","#a9d0e5","#cae1ee","#e6eff5","#f9ede7","#fbd9c8","#f8c2a7","#f4a688","#ea8a6e","#da6a55","#c84a43","#b52a35","#9c1229","#67001f"]}}}},
      {"data": {"name": "bd"}, "transform": [{"filter": "datum.g == 'P4'"}],
       "mark": {"type": "area", "interpolate": "monotone", "stroke": "#333", "strokeWidth": 0.9, "clip": true},
       "encoding": {"x": {"field": "lat", "type": "quantitative", "axis": null}, "y": {"field": "t", "type": "quantitative", "axis": null, "stack": null}, "y2": {"field": "b"}, "detail": {"field": "id"},
         "color": {"field": "v", "type": "quantitative", "legend": null, "scale": {"type": "threshold", "domain": [-4.5,-4,-3.5,-3,-2.5,-2,-1.5,-1,-0.5,0,0.5,1,1.5,2,2.5,3,3.5,4,4.5], "range": ["#053061","#134b87","#1f63a8","#2f79b5","#4291c2","#5fa5cd","#86bdda","#a9d0e5","#cae1ee","#e6eff5","#f9ede7","#fbd9c8","#f8c2a7","#f4a688","#ea8a6e","#da6a55","#c84a43","#b52a35","#9c1229","#67001f"]}}}},
      {"data": {"name": "bd"}, "transform": [{"filter": "datum.g == 'P5'"}],
       "mark": {"type": "area", "interpolate": "monotone", "stroke": "#333", "strokeWidth": 0.9, "clip": true},
       "encoding": {"x": {"field": "lat", "type": "quantitative", "axis": null}, "y": {"field": "t", "type": "quantitative", "axis": null, "stack": null}, "y2": {"field": "b"}, "detail": {"field": "id"},
         "color": {"field": "v", "type": "quantitative", "legend": null, "scale": {"type": "threshold", "domain": [-4.5,-4,-3.5,-3,-2.5,-2,-1.5,-1,-0.5,0,0.5,1,1.5,2,2.5,3,3.5,4,4.5], "range": ["#053061","#134b87","#1f63a8","#2f79b5","#4291c2","#5fa5cd","#86bdda","#a9d0e5","#cae1ee","#e6eff5","#f9ede7","#fbd9c8","#f8c2a7","#f4a688","#ea8a6e","#da6a55","#c84a43","#b52a35","#9c1229","#67001f"]}}}},
      {"data": {"name": "bd"}, "transform": [{"filter": "datum.g == 'M1'"}],
       "mark": {"type": "area", "interpolate": "monotone", "stroke": "#333", "strokeWidth": 0.9, "strokeDash": [4, 2.5], "clip": true},
       "encoding": {"x": {"field": "lat", "type": "quantitative", "axis": null}, "y": {"field": "t", "type": "quantitative", "axis": null, "stack": null}, "y2": {"field": "b"}, "detail": {"field": "id"},
         "color": {"field": "v", "type": "quantitative", "legend": null, "scale": {"type": "threshold", "domain": [-4.5,-4,-3.5,-3,-2.5,-2,-1.5,-1,-0.5,0,0.5,1,1.5,2,2.5,3,3.5,4,4.5], "range": ["#053061","#134b87","#1f63a8","#2f79b5","#4291c2","#5fa5cd","#86bdda","#a9d0e5","#cae1ee","#e6eff5","#f9ede7","#fbd9c8","#f8c2a7","#f4a688","#ea8a6e","#da6a55","#c84a43","#b52a35","#9c1229","#67001f"]}}}},
      {"data": {"name": "bd"}, "transform": [{"filter": "datum.g == 'M2'"}],
       "mark": {"type": "area", "interpolate": "monotone", "stroke": "#333", "strokeWidth": 0.9, "strokeDash": [4, 2.5], "clip": true},
       "encoding": {"x": {"field": "lat", "type": "quantitative", "axis": null}, "y": {"field": "t", "type": "quantitative", "axis": null, "stack": null}, "y2": {"field": "b"}, "detail": {"field": "id"},
         "color": {"field": "v", "type": "quantitative", "legend": null, "scale": {"type": "threshold", "domain": [-4.5,-4,-3.5,-3,-2.5,-2,-1.5,-1,-0.5,0,0.5,1,1.5,2,2.5,3,3.5,4,4.5], "range": ["#053061","#134b87","#1f63a8","#2f79b5","#4291c2","#5fa5cd","#86bdda","#a9d0e5","#cae1ee","#e6eff5","#f9ede7","#fbd9c8","#f8c2a7","#f4a688","#ea8a6e","#da6a55","#c84a43","#b52a35","#9c1229","#67001f"]}}}},
      {"data": {"name": "bd"}, "transform": [{"filter": "datum.g == 'M3'"}],
       "mark": {"type": "area", "interpolate": "monotone", "stroke": "#333", "strokeWidth": 0.9, "strokeDash": [4, 2.5], "clip": true},
       "encoding": {"x": {"field": "lat", "type": "quantitative", "axis": null}, "y": {"field": "t", "type": "quantitative", "axis": null, "stack": null}, "y2": {"field": "b"}, "detail": {"field": "id"},
         "color": {"field": "v", "type": "quantitative", "legend": null, "scale": {"type": "threshold", "domain": [-4.5,-4,-3.5,-3,-2.5,-2,-1.5,-1,-0.5,0,0.5,1,1.5,2,2.5,3,3.5,4,4.5], "range": ["#053061","#134b87","#1f63a8","#2f79b5","#4291c2","#5fa5cd","#86bdda","#a9d0e5","#cae1ee","#e6eff5","#f9ede7","#fbd9c8","#f8c2a7","#f4a688","#ea8a6e","#da6a55","#c84a43","#b52a35","#9c1229","#67001f"]}}}},
      {"data": {"name": "bd"}, "transform": [{"filter": "datum.g == 'M4'"}],
       "mark": {"type": "area", "interpolate": "monotone", "stroke": "#333", "strokeWidth": 0.9, "strokeDash": [4, 2.5], "clip": true},
       "encoding": {"x": {"field": "lat", "type": "quantitative", "axis": null}, "y": {"field": "t", "type": "quantitative", "axis": null, "stack": null}, "y2": {"field": "b"}, "detail": {"field": "id"},
         "color": {"field": "v", "type": "quantitative", "legend": null, "scale": {"type": "threshold", "domain": [-4.5,-4,-3.5,-3,-2.5,-2,-1.5,-1,-0.5,0,0.5,1,1.5,2,2.5,3,3.5,4,4.5], "range": ["#053061","#134b87","#1f63a8","#2f79b5","#4291c2","#5fa5cd","#86bdda","#a9d0e5","#cae1ee","#e6eff5","#f9ede7","#fbd9c8","#f8c2a7","#f4a688","#ea8a6e","#da6a55","#c84a43","#b52a35","#9c1229","#67001f"]}}}},
      {"data": {"name": "bd"}, "transform": [{"filter": "datum.g == 'M5'"}],
       "mark": {"type": "area", "interpolate": "monotone", "stroke": "#333", "strokeWidth": 0.9, "strokeDash": [4, 2.5], "clip": true},
       "encoding": {"x": {"field": "lat", "type": "quantitative", "axis": null}, "y": {"field": "t", "type": "quantitative", "axis": null, "stack": null}, "y2": {"field": "b"}, "detail": {"field": "id"},
         "color": {"field": "v", "type": "quantitative", "legend": null, "scale": {"type": "threshold", "domain": [-4.5,-4,-3.5,-3,-2.5,-2,-1.5,-1,-0.5,0,0.5,1,1.5,2,2.5,3,3.5,4,4.5], "range": ["#053061","#134b87","#1f63a8","#2f79b5","#4291c2","#5fa5cd","#86bdda","#a9d0e5","#cae1ee","#e6eff5","#f9ede7","#fbd9c8","#f8c2a7","#f4a688","#ea8a6e","#da6a55","#c84a43","#b52a35","#9c1229","#67001f"]}}}},
      {"data": {"name": "bd"}, "transform": [{"filter": "datum.g == 'M6'"}],
       "mark": {"type": "area", "interpolate": "monotone", "stroke": "#333", "strokeWidth": 0.9, "strokeDash": [4, 2.5], "clip": true},
       "encoding": {"x": {"field": "lat", "type": "quantitative", "axis": null}, "y": {"field": "t", "type": "quantitative", "axis": null, "stack": null}, "y2": {"field": "b"}, "detail": {"field": "id"},
         "color": {"field": "v", "type": "quantitative", "legend": null, "scale": {"type": "threshold", "domain": [-4.5,-4,-3.5,-3,-2.5,-2,-1.5,-1,-0.5,0,0.5,1,1.5,2,2.5,3,3.5,4,4.5], "range": ["#053061","#134b87","#1f63a8","#2f79b5","#4291c2","#5fa5cd","#86bdda","#a9d0e5","#cae1ee","#e6eff5","#f9ede7","#fbd9c8","#f8c2a7","#f4a688","#ea8a6e","#da6a55","#c84a43","#b52a35","#9c1229","#67001f"]}}}},
      {"data": {"name": "bd"}, "transform": [{"filter": "datum.g == 'M7'"}],
       "mark": {"type": "area", "interpolate": "monotone", "stroke": "#333", "strokeWidth": 0.9, "strokeDash": [4, 2.5], "clip": true},
       "encoding": {"x": {"field": "lat", "type": "quantitative", "axis": null}, "y": {"field": "t", "type": "quantitative", "axis": null, "stack": null}, "y2": {"field": "b"}, "detail": {"field": "id"},
         "color": {"field": "v", "type": "quantitative", "legend": null, "scale": {"type": "threshold", "domain": [-4.5,-4,-3.5,-3,-2.5,-2,-1.5,-1,-0.5,0,0.5,1,1.5,2,2.5,3,3.5,4,4.5], "range": ["#053061","#134b87","#1f63a8","#2f79b5","#4291c2","#5fa5cd","#86bdda","#a9d0e5","#cae1ee","#e6eff5","#f9ede7","#fbd9c8","#f8c2a7","#f4a688","#ea8a6e","#da6a55","#c84a43","#b52a35","#9c1229","#67001f"]}}}},
      {"data": {"name": "bd"}, "transform": [{"filter": "datum.g == 'M8'"}],
       "mark": {"type": "area", "interpolate": "monotone", "stroke": "#333", "strokeWidth": 0.9, "strokeDash": [4, 2.5], "clip": true},
       "encoding": {"x": {"field": "lat", "type": "quantitative", "axis": null}, "y": {"field": "t", "type": "quantitative", "axis": null, "stack": null}, "y2": {"field": "b"}, "detail": {"field": "id"},
         "color": {"field": "v", "type": "quantitative", "legend": null, "scale": {"type": "threshold", "domain": [-4.5,-4,-3.5,-3,-2.5,-2,-1.5,-1,-0.5,0,0.5,1,1.5,2,2.5,3,3.5,4,4.5], "range": ["#053061","#134b87","#1f63a8","#2f79b5","#4291c2","#5fa5cd","#86bdda","#a9d0e5","#cae1ee","#e6eff5","#f9ede7","#fbd9c8","#f8c2a7","#f4a688","#ea8a6e","#da6a55","#c84a43","#b52a35","#9c1229","#67001f"]}}}},
      {"data": {"name": "ct"},
       "mark": {"type": "line", "interpolate": "cardinal", "stroke": "#333", "strokeWidth": 0.9, "clip": true},
       "encoding": {
         "x": {"field": "lat", "type": "quantitative", "axis": null},
         "y": {"field": "p", "type": "quantitative", "axis": null},
         "detail": {"field": "id"},
         "order": {"value": null}
       }},
      {"mark": {"type": "point", "opacity": 0}, "transform": [{"filter": "datum.lat == 0 && datum.p == 100"}],
       "encoding": {
         "x": {"field": "lat", "type": "quantitative", "axis": {"orient": "top", "values": [-90,-60,-30,0,30,60,90], "tickSize": -6, "labels": false, "title": null}},
         "y": {"field": "p", "type": "quantitative", "axis": {"orient": "right", "values": [1,10,100,1000], "tickSize": -6, "labels": false, "title": null}}
       }},
      {"mark": {"type": "point", "opacity": 0}, "transform": [{"filter": "datum.lat == 0 && datum.p == 100"}],
       "encoding": {
         "x": {"field": "lat", "type": "quantitative", "axis": {"orient": "bottom", "values": [-80,-70,-50,-40,-20,-10,10,20,40,50,70,80], "tickSize": -3, "labels": false, "title": null}},
         "y": {"field": "p", "type": "quantitative", "axis": {"orient": "left", "values": [2,3,4,5,6,7,8,9,20,30,40,50,60,70,80,90,200,300,400,500,600,700,800,900], "tickSize": -3, "labels": false, "title": null}}
       }},
      {"mark": {"type": "point", "opacity": 0}, "transform": [{"filter": "datum.lat == 0 && datum.p == 100"}],
       "encoding": {
         "x": {"field": "lat", "type": "quantitative", "axis": {"orient": "top", "values": [-80,-70,-50,-40,-20,-10,10,20,40,50,70,80], "tickSize": -3, "labels": false, "title": null}},
         "y": {"field": "p", "type": "quantitative", "axis": {"orient": "right", "values": [2,3,4,5,6,7,8,9,20,30,40,50,60,70,80,90,200,300,400,500,600,700,800,900], "tickSize": -3, "labels": false, "title": null}}
       }}
    ]
  },
  {
    "width": 8, "height": 200,
    "view": {"stroke": null},
    "data": {"values": [
      {"lo":-4.5,"hi":-4,"k":"b"},{"lo":-4,"hi":-3.5,"k":"b"},{"lo":-3.5,"hi":-3,"k":"b"},{"lo":-3,"hi":-2.5,"k":"b"},{"lo":-2.5,"hi":-2,"k":"b"},{"lo":-2,"hi":-1.5,"k":"b"},{"lo":-1.5,"hi":-1,"k":"b"},{"lo":-1,"hi":-0.5,"k":"b"},{"lo":-0.5,"hi":0,"k":"b"},
      {"lo":0,"hi":0.5,"k":"b"},{"lo":0.5,"hi":1,"k":"b"},{"lo":1,"hi":1.5,"k":"b"},{"lo":1.5,"hi":2,"k":"b"},{"lo":2,"hi":2.5,"k":"b"},{"lo":2.5,"hi":3,"k":"b"},{"lo":3,"hi":3.5,"k":"b"},{"lo":3.5,"hi":4,"k":"b"},{"lo":4,"hi":4.5,"k":"b"},
      {"lo":4.74,"k":"up"},{"lo":-4.74,"k":"dn"}
    ]},
    "layer": [
      {"mark": {"type": "rect", "stroke": "#555", "strokeWidth": 0.6},
       "transform": [{"filter": "datum.k == 'b'"}],
       "encoding": {
         "y": {"field": "lo", "type": "quantitative", "scale": {"domain": [-5, 5], "nice": false, "zero": false},
               "axis": {"orient": "right", "values": [-4,-3,-2,-1,0,1,2,3,4], "ticks": false, "domain": false, "labelFontSize": 15, "labelPadding": 3, "labelOverlap": false, "title": null}},
         "y2": {"field": "hi"},
         "color": {"field": "lo", "type": "quantitative",
               "scale": {"type": "threshold", "domain": [-4.5,-4,-3.5,-3,-2.5,-2,-1.5,-1,-0.5,0,0.5,1,1.5,2,2.5,3,3.5,4,4.5],
                         "range": ["#053061","#134b87","#1f63a8","#2f79b5","#4291c2","#5fa5cd","#86bdda","#a9d0e5","#cae1ee","#e6eff5","#f9ede7","#fbd9c8","#f8c2a7","#f4a688","#ea8a6e","#da6a55","#c84a43","#b52a35","#9c1229","#67001f"]},
               "legend": null}
       }},
      {"mark": {"type": "point", "filled": true, "size": 64, "opacity": 1, "stroke": "#555", "strokeWidth": 0.6},
       "transform": [{"filter": "datum.k != 'b'"}],
       "encoding": {
         "y": {"field": "lo", "type": "quantitative", "scale": {"domain": [-5, 5], "nice": false, "zero": false},
               "axis": {"orient": "right", "values": [-4,-3,-2,-1,0,1,2,3,4], "ticks": false, "domain": false, "labelFontSize": 15, "labelPadding": 3, "labelOverlap": false, "title": null}},
         "shape": {"field": "k", "type": "nominal", "scale": {"domain": ["up", "dn"], "range": ["M0,-1.2L-1,1.2L1,1.2Z", "M0,1.2L-1,-1.2L1,-1.2Z"]}, "legend": null},
         "color": {"field": "lo", "type": "quantitative",
               "scale": {"type": "threshold", "domain": [-4.5,-4,-3.5,-3,-2.5,-2,-1.5,-1,-0.5,0,0.5,1,1.5,2,2.5,3,3.5,4,4.5],
                         "range": ["#053061","#134b87","#1f63a8","#2f79b5","#4291c2","#5fa5cd","#86bdda","#a9d0e5","#cae1ee","#e6eff5","#f9ede7","#fbd9c8","#f8c2a7","#f4a688","#ea8a6e","#da6a55","#c84a43","#b52a35","#9c1229","#67001f"]},
               "legend": null}
       }}
    ]
  }
  ]
}
]
}
